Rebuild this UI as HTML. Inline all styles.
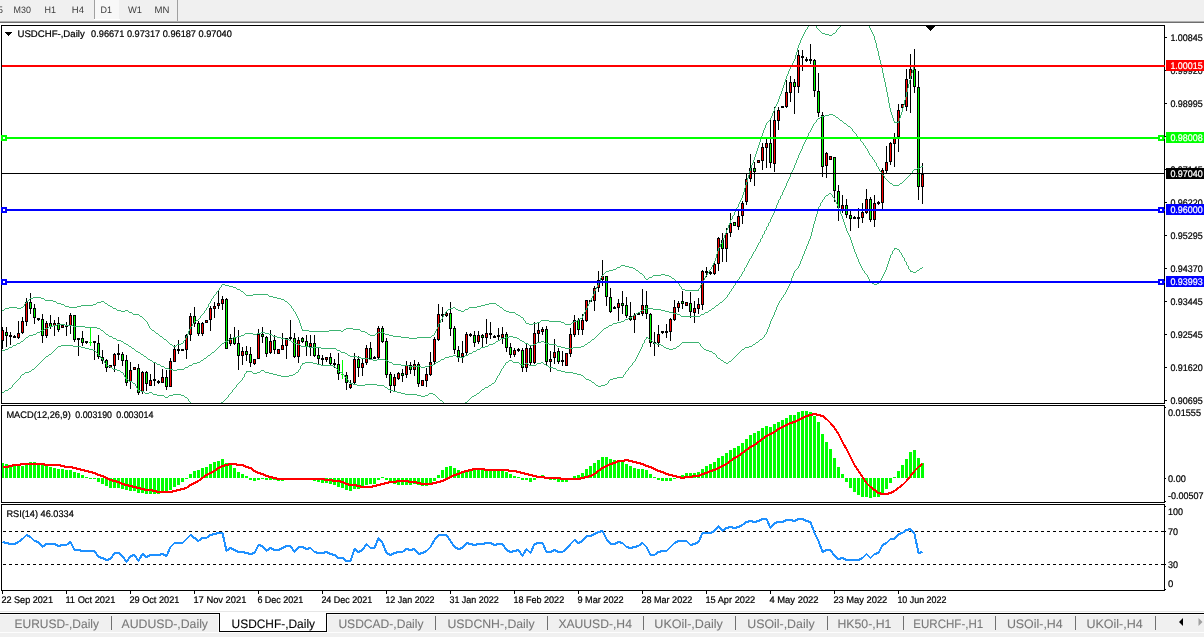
<!DOCTYPE html>
<html><head><meta charset="utf-8"><title>USDCHF-,Daily</title>
<style>
html,body{margin:0;padding:0;background:#fff;}
body{width:1204px;height:637px;overflow:hidden;position:relative;font-family:"Liberation Sans",sans-serif;}
svg text{white-space:pre;}
</style></head><body>
<svg width="1204" height="637" viewBox="0 0 1204 637" style="position:absolute;left:0;top:0" shape-rendering="crispEdges" text-rendering="geometricPrecision">
<defs><clipPath id="cm"><rect x="2" y="26" width="1162" height="377"/></clipPath><clipPath id="cd"><rect x="2" y="406" width="1162" height="96"/></clipPath><clipPath id="cr"><rect x="2" y="505" width="1162" height="85"/></clipPath></defs>
<rect x="0" y="0" width="1204" height="21" fill="#f0f0f0"/>
<rect x="0" y="21" width="1204" height="1" fill="#b0b0b0"/>
<rect x="0" y="22" width="1204" height="1" fill="#6e6e6e"/>
<rect x="95" y="0" width="24" height="19" fill="#f8f8f8"/>
<rect x="94" y="19" width="26" height="1" fill="#ffffff"/>
<rect x="94" y="0" width="1" height="19" fill="#a0a0a0"/>
<rect x="177" y="0" width="1" height="21" fill="#a0a0a0"/>
<rect x="1" y="25" width="1164" height="1" fill="#000"/>
<rect x="1" y="25" width="1" height="379" fill="#000"/>
<rect x="1164" y="25" width="1" height="379" fill="#000"/>
<rect x="1" y="403" width="1164" height="1" fill="#000"/>
<rect x="1" y="405" width="1164" height="1" fill="#000"/>
<rect x="1" y="405" width="1" height="98" fill="#000"/>
<rect x="1164" y="405" width="1" height="98" fill="#000"/>
<rect x="1" y="502" width="1164" height="1" fill="#000"/>
<rect x="1" y="504" width="1164" height="1" fill="#000"/>
<rect x="1" y="504" width="1" height="87" fill="#000"/>
<rect x="1164" y="504" width="1" height="87" fill="#000"/>
<rect x="1" y="590" width="1164" height="1" fill="#000"/>
<g clip-path="url(#cm)">
<rect x="2" y="327" width="1" height="22" fill="#000"/>
<rect x="1" y="330" width="3" height="11" fill="#000"/>
<rect x="2" y="331" width="1" height="9" fill="#ff0000"/>
<rect x="6" y="327" width="1" height="20" fill="#000"/>
<rect x="5" y="332" width="3" height="4" fill="#000"/>
<rect x="6" y="333" width="1" height="2" fill="#00ff00"/>
<rect x="10" y="332" width="1" height="13" fill="#000"/>
<rect x="9" y="335" width="3" height="2" fill="#000"/>
<rect x="14" y="335" width="1" height="3" fill="#000"/>
<rect x="13" y="336" width="3" height="2" fill="#000"/>
<rect x="18" y="321" width="1" height="18" fill="#000"/>
<rect x="17" y="333" width="3" height="5" fill="#000"/>
<rect x="18" y="334" width="1" height="3" fill="#ff0000"/>
<rect x="22" y="317" width="1" height="17" fill="#000"/>
<rect x="21" y="321" width="3" height="12" fill="#000"/>
<rect x="22" y="322" width="1" height="10" fill="#ff0000"/>
<rect x="26" y="298" width="1" height="28" fill="#000"/>
<rect x="25" y="302" width="3" height="20" fill="#000"/>
<rect x="26" y="303" width="1" height="18" fill="#ff0000"/>
<rect x="30" y="293" width="1" height="21" fill="#000"/>
<rect x="29" y="302" width="3" height="7" fill="#000"/>
<rect x="30" y="303" width="1" height="5" fill="#00ff00"/>
<rect x="34" y="304" width="1" height="20" fill="#000"/>
<rect x="33" y="308" width="3" height="10" fill="#000"/>
<rect x="34" y="309" width="1" height="8" fill="#00ff00"/>
<rect x="38" y="318" width="1" height="3" fill="#000"/>
<rect x="37" y="318" width="3" height="2" fill="#000"/>
<rect x="42" y="314" width="1" height="29" fill="#000"/>
<rect x="41" y="319" width="3" height="17" fill="#000"/>
<rect x="42" y="320" width="1" height="15" fill="#00ff00"/>
<rect x="46" y="321" width="1" height="17" fill="#000"/>
<rect x="45" y="323" width="3" height="13" fill="#000"/>
<rect x="46" y="324" width="1" height="11" fill="#ff0000"/>
<rect x="50" y="315" width="1" height="14" fill="#000"/>
<rect x="49" y="323" width="3" height="4" fill="#000"/>
<rect x="50" y="324" width="1" height="2" fill="#00ff00"/>
<rect x="54" y="320" width="1" height="16" fill="#000"/>
<rect x="53" y="323" width="3" height="3" fill="#000"/>
<rect x="54" y="324" width="1" height="1" fill="#ff0000"/>
<rect x="58" y="317" width="1" height="15" fill="#000"/>
<rect x="57" y="323" width="3" height="7" fill="#000"/>
<rect x="58" y="324" width="1" height="5" fill="#00ff00"/>
<rect x="62" y="325" width="1" height="3" fill="#000"/>
<rect x="61" y="325" width="3" height="3" fill="#000"/>
<rect x="62" y="326" width="1" height="1" fill="#ff0000"/>
<rect x="66" y="322" width="1" height="14" fill="#000"/>
<rect x="65" y="325" width="3" height="2" fill="#000"/>
<rect x="70" y="313" width="1" height="21" fill="#000"/>
<rect x="69" y="315" width="3" height="11" fill="#000"/>
<rect x="70" y="316" width="1" height="9" fill="#ff0000"/>
<rect x="74" y="315" width="1" height="27" fill="#000"/>
<rect x="73" y="315" width="3" height="25" fill="#000"/>
<rect x="74" y="316" width="1" height="23" fill="#00ff00"/>
<rect x="78" y="338" width="1" height="18" fill="#000"/>
<rect x="77" y="338" width="3" height="2" fill="#000"/>
<rect x="82" y="331" width="1" height="15" fill="#000"/>
<rect x="81" y="338" width="3" height="5" fill="#000"/>
<rect x="82" y="339" width="1" height="3" fill="#00ff00"/>
<rect x="86" y="342" width="1" height="2" fill="#000"/>
<rect x="85" y="341" width="3" height="2" fill="#000"/>
<rect x="90" y="328" width="1" height="18" fill="#00ff00"/>
<rect x="89" y="342" width="3" height="1" fill="#00ff00"/>
<rect x="94" y="341" width="1" height="19" fill="#000"/>
<rect x="93" y="341" width="3" height="2" fill="#000"/>
<rect x="98" y="335" width="1" height="24" fill="#000"/>
<rect x="97" y="343" width="3" height="14" fill="#000"/>
<rect x="98" y="344" width="1" height="12" fill="#00ff00"/>
<rect x="102" y="350" width="1" height="14" fill="#000"/>
<rect x="101" y="357" width="3" height="4" fill="#000"/>
<rect x="102" y="358" width="1" height="2" fill="#00ff00"/>
<rect x="106" y="359" width="1" height="13" fill="#000"/>
<rect x="105" y="360" width="3" height="8" fill="#000"/>
<rect x="106" y="361" width="1" height="6" fill="#00ff00"/>
<rect x="110" y="365" width="1" height="3" fill="#000"/>
<rect x="109" y="365" width="3" height="3" fill="#000"/>
<rect x="110" y="366" width="1" height="1" fill="#ff0000"/>
<rect x="114" y="353" width="1" height="19" fill="#000"/>
<rect x="113" y="354" width="3" height="12" fill="#000"/>
<rect x="114" y="355" width="1" height="10" fill="#ff0000"/>
<rect x="118" y="344" width="1" height="16" fill="#000"/>
<rect x="117" y="353" width="3" height="2" fill="#000"/>
<rect x="122" y="352" width="1" height="14" fill="#000"/>
<rect x="121" y="354" width="3" height="7" fill="#000"/>
<rect x="122" y="355" width="1" height="5" fill="#00ff00"/>
<rect x="126" y="355" width="1" height="31" fill="#000"/>
<rect x="125" y="360" width="3" height="23" fill="#000"/>
<rect x="126" y="361" width="1" height="21" fill="#00ff00"/>
<rect x="130" y="362" width="1" height="27" fill="#000"/>
<rect x="129" y="370" width="3" height="12" fill="#000"/>
<rect x="130" y="371" width="1" height="10" fill="#ff0000"/>
<rect x="134" y="367" width="1" height="3" fill="#000"/>
<rect x="133" y="367" width="3" height="3" fill="#000"/>
<rect x="134" y="368" width="1" height="1" fill="#ff0000"/>
<rect x="138" y="364" width="1" height="31" fill="#000"/>
<rect x="137" y="368" width="3" height="25" fill="#000"/>
<rect x="138" y="369" width="1" height="23" fill="#00ff00"/>
<rect x="142" y="371" width="1" height="23" fill="#000"/>
<rect x="141" y="372" width="3" height="20" fill="#000"/>
<rect x="142" y="373" width="1" height="18" fill="#ff0000"/>
<rect x="146" y="371" width="1" height="20" fill="#000"/>
<rect x="145" y="372" width="3" height="12" fill="#000"/>
<rect x="146" y="373" width="1" height="10" fill="#00ff00"/>
<rect x="150" y="374" width="1" height="12" fill="#000"/>
<rect x="149" y="380" width="3" height="6" fill="#000"/>
<rect x="150" y="381" width="1" height="4" fill="#ff0000"/>
<rect x="154" y="362" width="1" height="24" fill="#000"/>
<rect x="153" y="379" width="3" height="2" fill="#000"/>
<rect x="158" y="380" width="1" height="4" fill="#000"/>
<rect x="157" y="381" width="3" height="2" fill="#000"/>
<rect x="162" y="369" width="1" height="14" fill="#000"/>
<rect x="161" y="377" width="3" height="6" fill="#000"/>
<rect x="162" y="378" width="1" height="4" fill="#ff0000"/>
<rect x="166" y="370" width="1" height="20" fill="#000"/>
<rect x="165" y="377" width="3" height="10" fill="#000"/>
<rect x="166" y="378" width="1" height="8" fill="#00ff00"/>
<rect x="170" y="358" width="1" height="29" fill="#000"/>
<rect x="169" y="361" width="3" height="26" fill="#000"/>
<rect x="170" y="362" width="1" height="24" fill="#ff0000"/>
<rect x="174" y="345" width="1" height="17" fill="#000"/>
<rect x="173" y="349" width="3" height="13" fill="#000"/>
<rect x="174" y="350" width="1" height="11" fill="#ff0000"/>
<rect x="178" y="340" width="1" height="14" fill="#000"/>
<rect x="177" y="349" width="3" height="2" fill="#000"/>
<rect x="182" y="349" width="1" height="1" fill="#000"/>
<rect x="181" y="349" width="3" height="2" fill="#000"/>
<rect x="186" y="334" width="1" height="25" fill="#000"/>
<rect x="185" y="335" width="3" height="15" fill="#000"/>
<rect x="186" y="336" width="1" height="13" fill="#ff0000"/>
<rect x="190" y="313" width="1" height="28" fill="#000"/>
<rect x="189" y="316" width="3" height="19" fill="#000"/>
<rect x="190" y="317" width="1" height="17" fill="#ff0000"/>
<rect x="194" y="307" width="1" height="20" fill="#000"/>
<rect x="193" y="316" width="3" height="8" fill="#000"/>
<rect x="194" y="317" width="1" height="6" fill="#00ff00"/>
<rect x="198" y="321" width="1" height="15" fill="#000"/>
<rect x="197" y="323" width="3" height="11" fill="#000"/>
<rect x="198" y="324" width="1" height="9" fill="#00ff00"/>
<rect x="202" y="322" width="1" height="14" fill="#000"/>
<rect x="201" y="323" width="3" height="11" fill="#000"/>
<rect x="202" y="324" width="1" height="9" fill="#ff0000"/>
<rect x="206" y="320" width="1" height="3" fill="#000"/>
<rect x="205" y="320" width="3" height="3" fill="#000"/>
<rect x="206" y="321" width="1" height="1" fill="#ff0000"/>
<rect x="210" y="306" width="1" height="25" fill="#000"/>
<rect x="209" y="308" width="3" height="12" fill="#000"/>
<rect x="210" y="309" width="1" height="10" fill="#ff0000"/>
<rect x="214" y="302" width="1" height="16" fill="#000"/>
<rect x="213" y="306" width="3" height="3" fill="#000"/>
<rect x="214" y="307" width="1" height="1" fill="#ff0000"/>
<rect x="218" y="291" width="1" height="18" fill="#000"/>
<rect x="217" y="303" width="3" height="3" fill="#000"/>
<rect x="218" y="304" width="1" height="1" fill="#ff0000"/>
<rect x="222" y="296" width="1" height="14" fill="#000"/>
<rect x="221" y="299" width="3" height="5" fill="#000"/>
<rect x="222" y="300" width="1" height="3" fill="#ff0000"/>
<rect x="226" y="298" width="1" height="51" fill="#000"/>
<rect x="225" y="299" width="3" height="50" fill="#000"/>
<rect x="226" y="300" width="1" height="48" fill="#00ff00"/>
<rect x="230" y="334" width="1" height="12" fill="#000"/>
<rect x="229" y="338" width="3" height="6" fill="#000"/>
<rect x="230" y="339" width="1" height="4" fill="#ff0000"/>
<rect x="234" y="327" width="1" height="18" fill="#000"/>
<rect x="233" y="337" width="3" height="7" fill="#000"/>
<rect x="234" y="338" width="1" height="5" fill="#00ff00"/>
<rect x="238" y="330" width="1" height="40" fill="#000"/>
<rect x="237" y="343" width="3" height="13" fill="#000"/>
<rect x="238" y="344" width="1" height="11" fill="#00ff00"/>
<rect x="242" y="347" width="1" height="18" fill="#000"/>
<rect x="241" y="351" width="3" height="5" fill="#000"/>
<rect x="242" y="352" width="1" height="3" fill="#ff0000"/>
<rect x="246" y="346" width="1" height="15" fill="#000"/>
<rect x="245" y="351" width="3" height="4" fill="#000"/>
<rect x="246" y="352" width="1" height="2" fill="#00ff00"/>
<rect x="250" y="347" width="1" height="20" fill="#000"/>
<rect x="249" y="354" width="3" height="9" fill="#000"/>
<rect x="250" y="355" width="1" height="7" fill="#00ff00"/>
<rect x="254" y="359" width="1" height="6" fill="#000"/>
<rect x="253" y="359" width="3" height="5" fill="#000"/>
<rect x="254" y="360" width="1" height="3" fill="#ff0000"/>
<rect x="258" y="329" width="1" height="30" fill="#000"/>
<rect x="257" y="334" width="3" height="25" fill="#000"/>
<rect x="258" y="335" width="1" height="23" fill="#ff0000"/>
<rect x="262" y="327" width="1" height="16" fill="#000"/>
<rect x="261" y="334" width="3" height="3" fill="#000"/>
<rect x="262" y="335" width="1" height="1" fill="#00ff00"/>
<rect x="266" y="336" width="1" height="21" fill="#000"/>
<rect x="265" y="337" width="3" height="17" fill="#000"/>
<rect x="266" y="338" width="1" height="15" fill="#00ff00"/>
<rect x="270" y="330" width="1" height="24" fill="#000"/>
<rect x="269" y="341" width="3" height="12" fill="#000"/>
<rect x="270" y="342" width="1" height="10" fill="#ff0000"/>
<rect x="274" y="335" width="1" height="19" fill="#000"/>
<rect x="273" y="340" width="3" height="10" fill="#000"/>
<rect x="274" y="341" width="1" height="8" fill="#00ff00"/>
<rect x="278" y="349" width="1" height="5" fill="#000"/>
<rect x="277" y="349" width="3" height="5" fill="#000"/>
<rect x="278" y="350" width="1" height="3" fill="#ff0000"/>
<rect x="282" y="333" width="1" height="17" fill="#000"/>
<rect x="281" y="345" width="3" height="5" fill="#000"/>
<rect x="282" y="346" width="1" height="3" fill="#ff0000"/>
<rect x="286" y="338" width="1" height="21" fill="#000"/>
<rect x="285" y="338" width="3" height="8" fill="#000"/>
<rect x="286" y="339" width="1" height="6" fill="#ff0000"/>
<rect x="290" y="320" width="1" height="20" fill="#000"/>
<rect x="289" y="337" width="3" height="2" fill="#000"/>
<rect x="294" y="333" width="1" height="25" fill="#000"/>
<rect x="293" y="338" width="3" height="19" fill="#000"/>
<rect x="294" y="339" width="1" height="17" fill="#00ff00"/>
<rect x="298" y="337" width="1" height="26" fill="#000"/>
<rect x="297" y="340" width="3" height="17" fill="#000"/>
<rect x="298" y="341" width="1" height="15" fill="#ff0000"/>
<rect x="302" y="337" width="1" height="6" fill="#000"/>
<rect x="301" y="338" width="3" height="4" fill="#000"/>
<rect x="302" y="339" width="1" height="2" fill="#00ff00"/>
<rect x="306" y="335" width="1" height="21" fill="#000"/>
<rect x="305" y="341" width="3" height="6" fill="#000"/>
<rect x="306" y="342" width="1" height="4" fill="#00ff00"/>
<rect x="310" y="335" width="1" height="21" fill="#000"/>
<rect x="309" y="343" width="3" height="4" fill="#000"/>
<rect x="310" y="344" width="1" height="2" fill="#ff0000"/>
<rect x="314" y="335" width="1" height="22" fill="#000"/>
<rect x="313" y="343" width="3" height="13" fill="#000"/>
<rect x="314" y="344" width="1" height="11" fill="#00ff00"/>
<rect x="318" y="347" width="1" height="17" fill="#000"/>
<rect x="317" y="355" width="3" height="4" fill="#000"/>
<rect x="318" y="356" width="1" height="2" fill="#00ff00"/>
<rect x="322" y="355" width="1" height="11" fill="#000"/>
<rect x="321" y="358" width="3" height="2" fill="#000"/>
<rect x="326" y="357" width="1" height="5" fill="#000"/>
<rect x="325" y="357" width="3" height="3" fill="#000"/>
<rect x="326" y="358" width="1" height="1" fill="#ff0000"/>
<rect x="330" y="353" width="1" height="12" fill="#000"/>
<rect x="329" y="357" width="3" height="7" fill="#000"/>
<rect x="330" y="358" width="1" height="5" fill="#00ff00"/>
<rect x="334" y="359" width="1" height="9" fill="#000"/>
<rect x="333" y="363" width="3" height="2" fill="#000"/>
<rect x="338" y="353" width="1" height="27" fill="#000"/>
<rect x="337" y="364" width="3" height="10" fill="#000"/>
<rect x="338" y="365" width="1" height="8" fill="#00ff00"/>
<rect x="342" y="360" width="1" height="19" fill="#00ff00"/>
<rect x="341" y="374" width="3" height="1" fill="#00ff00"/>
<rect x="346" y="372" width="1" height="18" fill="#000"/>
<rect x="345" y="375" width="3" height="8" fill="#000"/>
<rect x="346" y="376" width="1" height="6" fill="#00ff00"/>
<rect x="350" y="380" width="1" height="9" fill="#000"/>
<rect x="349" y="384" width="3" height="4" fill="#000"/>
<rect x="350" y="385" width="1" height="2" fill="#ff0000"/>
<rect x="354" y="353" width="1" height="31" fill="#000"/>
<rect x="353" y="359" width="3" height="24" fill="#000"/>
<rect x="354" y="360" width="1" height="22" fill="#ff0000"/>
<rect x="358" y="356" width="1" height="21" fill="#000"/>
<rect x="357" y="359" width="3" height="9" fill="#000"/>
<rect x="358" y="360" width="1" height="7" fill="#00ff00"/>
<rect x="362" y="358" width="1" height="18" fill="#000"/>
<rect x="361" y="363" width="3" height="5" fill="#000"/>
<rect x="362" y="364" width="1" height="3" fill="#ff0000"/>
<rect x="366" y="345" width="1" height="20" fill="#000"/>
<rect x="365" y="348" width="3" height="15" fill="#000"/>
<rect x="366" y="349" width="1" height="13" fill="#ff0000"/>
<rect x="370" y="342" width="1" height="18" fill="#000"/>
<rect x="369" y="348" width="3" height="11" fill="#000"/>
<rect x="370" y="349" width="1" height="9" fill="#00ff00"/>
<rect x="374" y="356" width="1" height="3" fill="#000"/>
<rect x="373" y="357" width="3" height="2" fill="#000"/>
<rect x="378" y="326" width="1" height="33" fill="#000"/>
<rect x="377" y="328" width="3" height="30" fill="#000"/>
<rect x="378" y="329" width="1" height="28" fill="#ff0000"/>
<rect x="382" y="326" width="1" height="17" fill="#000"/>
<rect x="381" y="328" width="3" height="14" fill="#000"/>
<rect x="382" y="329" width="1" height="12" fill="#00ff00"/>
<rect x="386" y="338" width="1" height="40" fill="#000"/>
<rect x="385" y="341" width="3" height="34" fill="#000"/>
<rect x="386" y="342" width="1" height="32" fill="#00ff00"/>
<rect x="390" y="372" width="1" height="21" fill="#000"/>
<rect x="389" y="374" width="3" height="12" fill="#000"/>
<rect x="390" y="375" width="1" height="10" fill="#00ff00"/>
<rect x="394" y="374" width="1" height="18" fill="#000"/>
<rect x="393" y="377" width="3" height="9" fill="#000"/>
<rect x="394" y="378" width="1" height="7" fill="#ff0000"/>
<rect x="398" y="372" width="1" height="8" fill="#000"/>
<rect x="397" y="373" width="3" height="6" fill="#000"/>
<rect x="398" y="374" width="1" height="4" fill="#ff0000"/>
<rect x="402" y="369" width="1" height="13" fill="#000"/>
<rect x="401" y="373" width="3" height="3" fill="#000"/>
<rect x="402" y="374" width="1" height="1" fill="#00ff00"/>
<rect x="406" y="361" width="1" height="17" fill="#000"/>
<rect x="405" y="365" width="3" height="10" fill="#000"/>
<rect x="406" y="366" width="1" height="8" fill="#ff0000"/>
<rect x="410" y="362" width="1" height="12" fill="#000"/>
<rect x="409" y="365" width="3" height="5" fill="#000"/>
<rect x="410" y="366" width="1" height="3" fill="#00ff00"/>
<rect x="414" y="360" width="1" height="16" fill="#000"/>
<rect x="413" y="364" width="3" height="6" fill="#000"/>
<rect x="414" y="365" width="1" height="4" fill="#ff0000"/>
<rect x="418" y="362" width="1" height="25" fill="#000"/>
<rect x="417" y="364" width="3" height="20" fill="#000"/>
<rect x="418" y="365" width="1" height="18" fill="#00ff00"/>
<rect x="422" y="380" width="1" height="6" fill="#000"/>
<rect x="421" y="380" width="3" height="6" fill="#000"/>
<rect x="422" y="381" width="1" height="4" fill="#ff0000"/>
<rect x="426" y="368" width="1" height="19" fill="#000"/>
<rect x="425" y="374" width="3" height="7" fill="#000"/>
<rect x="426" y="375" width="1" height="5" fill="#ff0000"/>
<rect x="430" y="352" width="1" height="24" fill="#000"/>
<rect x="429" y="362" width="3" height="13" fill="#000"/>
<rect x="430" y="363" width="1" height="11" fill="#ff0000"/>
<rect x="434" y="337" width="1" height="27" fill="#000"/>
<rect x="433" y="339" width="3" height="23" fill="#000"/>
<rect x="434" y="340" width="1" height="21" fill="#ff0000"/>
<rect x="438" y="304" width="1" height="37" fill="#000"/>
<rect x="437" y="314" width="3" height="26" fill="#000"/>
<rect x="438" y="315" width="1" height="24" fill="#ff0000"/>
<rect x="442" y="307" width="1" height="15" fill="#000"/>
<rect x="441" y="314" width="3" height="2" fill="#000"/>
<rect x="446" y="312" width="1" height="5" fill="#000"/>
<rect x="445" y="313" width="3" height="3" fill="#000"/>
<rect x="446" y="314" width="1" height="1" fill="#ff0000"/>
<rect x="450" y="302" width="1" height="34" fill="#000"/>
<rect x="449" y="313" width="3" height="16" fill="#000"/>
<rect x="450" y="314" width="1" height="14" fill="#00ff00"/>
<rect x="454" y="326" width="1" height="28" fill="#000"/>
<rect x="453" y="328" width="3" height="22" fill="#000"/>
<rect x="454" y="329" width="1" height="20" fill="#00ff00"/>
<rect x="458" y="346" width="1" height="16" fill="#000"/>
<rect x="457" y="350" width="3" height="7" fill="#000"/>
<rect x="458" y="351" width="1" height="5" fill="#00ff00"/>
<rect x="462" y="341" width="1" height="22" fill="#000"/>
<rect x="461" y="353" width="3" height="4" fill="#000"/>
<rect x="462" y="354" width="1" height="2" fill="#ff0000"/>
<rect x="466" y="332" width="1" height="23" fill="#000"/>
<rect x="465" y="334" width="3" height="19" fill="#000"/>
<rect x="466" y="335" width="1" height="17" fill="#ff0000"/>
<rect x="470" y="333" width="1" height="4" fill="#000"/>
<rect x="469" y="334" width="3" height="2" fill="#000"/>
<rect x="474" y="331" width="1" height="16" fill="#000"/>
<rect x="473" y="335" width="3" height="8" fill="#000"/>
<rect x="474" y="336" width="1" height="6" fill="#00ff00"/>
<rect x="478" y="331" width="1" height="13" fill="#000"/>
<rect x="477" y="335" width="3" height="7" fill="#000"/>
<rect x="478" y="336" width="1" height="5" fill="#ff0000"/>
<rect x="482" y="334" width="1" height="13" fill="#000"/>
<rect x="481" y="335" width="3" height="3" fill="#000"/>
<rect x="482" y="336" width="1" height="1" fill="#00ff00"/>
<rect x="486" y="319" width="1" height="25" fill="#000"/>
<rect x="485" y="333" width="3" height="5" fill="#000"/>
<rect x="486" y="334" width="1" height="3" fill="#ff0000"/>
<rect x="490" y="322" width="1" height="17" fill="#000"/>
<rect x="489" y="333" width="3" height="2" fill="#000"/>
<rect x="494" y="335" width="1" height="3" fill="#000"/>
<rect x="493" y="336" width="3" height="2" fill="#000"/>
<rect x="498" y="328" width="1" height="12" fill="#000"/>
<rect x="497" y="335" width="3" height="2" fill="#000"/>
<rect x="502" y="327" width="1" height="17" fill="#000"/>
<rect x="501" y="334" width="3" height="4" fill="#000"/>
<rect x="502" y="335" width="1" height="2" fill="#ff0000"/>
<rect x="506" y="332" width="1" height="20" fill="#000"/>
<rect x="505" y="334" width="3" height="14" fill="#000"/>
<rect x="506" y="335" width="1" height="12" fill="#00ff00"/>
<rect x="510" y="343" width="1" height="15" fill="#000"/>
<rect x="509" y="347" width="3" height="8" fill="#000"/>
<rect x="510" y="348" width="1" height="6" fill="#00ff00"/>
<rect x="514" y="348" width="1" height="9" fill="#000"/>
<rect x="513" y="350" width="3" height="5" fill="#000"/>
<rect x="514" y="351" width="1" height="3" fill="#ff0000"/>
<rect x="518" y="348" width="1" height="4" fill="#000"/>
<rect x="517" y="349" width="3" height="2" fill="#000"/>
<rect x="522" y="348" width="1" height="24" fill="#000"/>
<rect x="521" y="350" width="3" height="18" fill="#000"/>
<rect x="522" y="351" width="1" height="16" fill="#00ff00"/>
<rect x="526" y="344" width="1" height="28" fill="#000"/>
<rect x="525" y="348" width="3" height="20" fill="#000"/>
<rect x="526" y="349" width="1" height="18" fill="#ff0000"/>
<rect x="530" y="346" width="1" height="20" fill="#000"/>
<rect x="529" y="348" width="3" height="15" fill="#000"/>
<rect x="530" y="349" width="1" height="13" fill="#00ff00"/>
<rect x="534" y="322" width="1" height="42" fill="#000"/>
<rect x="533" y="333" width="3" height="30" fill="#000"/>
<rect x="534" y="334" width="1" height="28" fill="#ff0000"/>
<rect x="538" y="323" width="1" height="20" fill="#000"/>
<rect x="537" y="330" width="3" height="4" fill="#000"/>
<rect x="538" y="331" width="1" height="2" fill="#ff0000"/>
<rect x="542" y="327" width="1" height="8" fill="#000"/>
<rect x="541" y="329" width="3" height="3" fill="#000"/>
<rect x="542" y="330" width="1" height="1" fill="#ff0000"/>
<rect x="546" y="326" width="1" height="40" fill="#000"/>
<rect x="545" y="329" width="3" height="33" fill="#000"/>
<rect x="546" y="330" width="1" height="31" fill="#00ff00"/>
<rect x="550" y="351" width="1" height="21" fill="#000"/>
<rect x="549" y="359" width="3" height="3" fill="#000"/>
<rect x="550" y="360" width="1" height="1" fill="#ff0000"/>
<rect x="554" y="339" width="1" height="25" fill="#000"/>
<rect x="553" y="352" width="3" height="6" fill="#000"/>
<rect x="554" y="353" width="1" height="4" fill="#ff0000"/>
<rect x="558" y="348" width="1" height="16" fill="#000"/>
<rect x="557" y="351" width="3" height="11" fill="#000"/>
<rect x="558" y="352" width="1" height="9" fill="#00ff00"/>
<rect x="562" y="351" width="1" height="15" fill="#000"/>
<rect x="561" y="360" width="3" height="2" fill="#000"/>
<rect x="566" y="353" width="1" height="13" fill="#000"/>
<rect x="565" y="353" width="3" height="13" fill="#000"/>
<rect x="566" y="354" width="1" height="11" fill="#ff0000"/>
<rect x="570" y="328" width="1" height="29" fill="#000"/>
<rect x="569" y="334" width="3" height="20" fill="#000"/>
<rect x="570" y="335" width="1" height="18" fill="#ff0000"/>
<rect x="574" y="315" width="1" height="22" fill="#000"/>
<rect x="573" y="320" width="3" height="15" fill="#000"/>
<rect x="574" y="321" width="1" height="13" fill="#ff0000"/>
<rect x="578" y="318" width="1" height="17" fill="#000"/>
<rect x="577" y="320" width="3" height="10" fill="#000"/>
<rect x="578" y="321" width="1" height="8" fill="#00ff00"/>
<rect x="582" y="314" width="1" height="21" fill="#000"/>
<rect x="581" y="320" width="3" height="10" fill="#000"/>
<rect x="582" y="321" width="1" height="8" fill="#ff0000"/>
<rect x="586" y="300" width="1" height="22" fill="#000"/>
<rect x="585" y="300" width="3" height="21" fill="#000"/>
<rect x="586" y="301" width="1" height="19" fill="#ff0000"/>
<rect x="590" y="300" width="1" height="2" fill="#000"/>
<rect x="589" y="300" width="3" height="2" fill="#000"/>
<rect x="594" y="286" width="1" height="25" fill="#000"/>
<rect x="593" y="288" width="3" height="13" fill="#000"/>
<rect x="594" y="289" width="1" height="11" fill="#ff0000"/>
<rect x="598" y="271" width="1" height="21" fill="#000"/>
<rect x="597" y="280" width="3" height="8" fill="#000"/>
<rect x="598" y="281" width="1" height="6" fill="#ff0000"/>
<rect x="602" y="260" width="1" height="26" fill="#000"/>
<rect x="601" y="276" width="3" height="4" fill="#000"/>
<rect x="602" y="277" width="1" height="2" fill="#ff0000"/>
<rect x="606" y="276" width="1" height="30" fill="#000"/>
<rect x="605" y="276" width="3" height="21" fill="#000"/>
<rect x="606" y="277" width="1" height="19" fill="#00ff00"/>
<rect x="610" y="288" width="1" height="25" fill="#000"/>
<rect x="609" y="297" width="3" height="15" fill="#000"/>
<rect x="610" y="298" width="1" height="13" fill="#00ff00"/>
<rect x="614" y="306" width="1" height="2" fill="#000"/>
<rect x="613" y="307" width="3" height="2" fill="#000"/>
<rect x="618" y="299" width="1" height="22" fill="#000"/>
<rect x="617" y="303" width="3" height="5" fill="#000"/>
<rect x="618" y="304" width="1" height="3" fill="#ff0000"/>
<rect x="622" y="291" width="1" height="23" fill="#000"/>
<rect x="621" y="303" width="3" height="3" fill="#000"/>
<rect x="622" y="304" width="1" height="1" fill="#00ff00"/>
<rect x="626" y="297" width="1" height="21" fill="#000"/>
<rect x="625" y="305" width="3" height="11" fill="#000"/>
<rect x="626" y="306" width="1" height="9" fill="#00ff00"/>
<rect x="630" y="302" width="1" height="19" fill="#000"/>
<rect x="629" y="316" width="3" height="4" fill="#000"/>
<rect x="630" y="317" width="1" height="2" fill="#00ff00"/>
<rect x="634" y="313" width="1" height="20" fill="#000"/>
<rect x="633" y="315" width="3" height="5" fill="#000"/>
<rect x="634" y="316" width="1" height="3" fill="#ff0000"/>
<rect x="638" y="313" width="1" height="2" fill="#000"/>
<rect x="637" y="313" width="3" height="2" fill="#000"/>
<rect x="642" y="289" width="1" height="27" fill="#000"/>
<rect x="641" y="305" width="3" height="9" fill="#000"/>
<rect x="642" y="306" width="1" height="7" fill="#ff0000"/>
<rect x="646" y="291" width="1" height="28" fill="#000"/>
<rect x="645" y="305" width="3" height="9" fill="#000"/>
<rect x="646" y="306" width="1" height="7" fill="#00ff00"/>
<rect x="650" y="313" width="1" height="34" fill="#000"/>
<rect x="649" y="314" width="3" height="29" fill="#000"/>
<rect x="650" y="315" width="1" height="27" fill="#00ff00"/>
<rect x="654" y="332" width="1" height="24" fill="#000"/>
<rect x="653" y="342" width="3" height="2" fill="#000"/>
<rect x="658" y="325" width="1" height="22" fill="#000"/>
<rect x="657" y="334" width="3" height="9" fill="#000"/>
<rect x="658" y="335" width="1" height="7" fill="#ff0000"/>
<rect x="662" y="331" width="1" height="3" fill="#000"/>
<rect x="661" y="331" width="3" height="2" fill="#000"/>
<rect x="666" y="324" width="1" height="14" fill="#000"/>
<rect x="665" y="331" width="3" height="2" fill="#000"/>
<rect x="670" y="318" width="1" height="23" fill="#000"/>
<rect x="669" y="319" width="3" height="13" fill="#000"/>
<rect x="670" y="320" width="1" height="11" fill="#ff0000"/>
<rect x="674" y="300" width="1" height="21" fill="#000"/>
<rect x="673" y="307" width="3" height="13" fill="#000"/>
<rect x="674" y="308" width="1" height="11" fill="#ff0000"/>
<rect x="678" y="301" width="1" height="11" fill="#000"/>
<rect x="677" y="303" width="3" height="5" fill="#000"/>
<rect x="678" y="304" width="1" height="3" fill="#ff0000"/>
<rect x="682" y="291" width="1" height="18" fill="#000"/>
<rect x="681" y="301" width="3" height="3" fill="#000"/>
<rect x="682" y="302" width="1" height="1" fill="#00ff00"/>
<rect x="686" y="302" width="1" height="4" fill="#000"/>
<rect x="685" y="302" width="3" height="4" fill="#000"/>
<rect x="686" y="303" width="1" height="2" fill="#ff0000"/>
<rect x="690" y="292" width="1" height="26" fill="#000"/>
<rect x="689" y="303" width="3" height="9" fill="#000"/>
<rect x="690" y="304" width="1" height="7" fill="#00ff00"/>
<rect x="694" y="301" width="1" height="22" fill="#000"/>
<rect x="693" y="308" width="3" height="5" fill="#000"/>
<rect x="694" y="309" width="1" height="3" fill="#ff0000"/>
<rect x="698" y="298" width="1" height="16" fill="#000"/>
<rect x="697" y="304" width="3" height="5" fill="#000"/>
<rect x="698" y="305" width="1" height="3" fill="#ff0000"/>
<rect x="702" y="270" width="1" height="40" fill="#000"/>
<rect x="701" y="271" width="3" height="34" fill="#000"/>
<rect x="702" y="272" width="1" height="32" fill="#ff0000"/>
<rect x="706" y="267" width="1" height="10" fill="#000"/>
<rect x="705" y="271" width="3" height="2" fill="#000"/>
<rect x="710" y="271" width="1" height="4" fill="#000"/>
<rect x="709" y="272" width="3" height="2" fill="#000"/>
<rect x="714" y="263" width="1" height="12" fill="#000"/>
<rect x="713" y="264" width="3" height="10" fill="#000"/>
<rect x="714" y="265" width="1" height="8" fill="#ff0000"/>
<rect x="718" y="237" width="1" height="34" fill="#000"/>
<rect x="717" y="238" width="3" height="26" fill="#000"/>
<rect x="718" y="239" width="1" height="24" fill="#ff0000"/>
<rect x="722" y="233" width="1" height="29" fill="#000"/>
<rect x="721" y="240" width="3" height="9" fill="#000"/>
<rect x="722" y="241" width="1" height="7" fill="#00ff00"/>
<rect x="726" y="228" width="1" height="34" fill="#000"/>
<rect x="725" y="233" width="3" height="16" fill="#000"/>
<rect x="726" y="234" width="1" height="14" fill="#ff0000"/>
<rect x="730" y="213" width="1" height="24" fill="#000"/>
<rect x="729" y="223" width="3" height="10" fill="#000"/>
<rect x="730" y="224" width="1" height="8" fill="#ff0000"/>
<rect x="734" y="222" width="1" height="4" fill="#000"/>
<rect x="733" y="222" width="3" height="4" fill="#000"/>
<rect x="734" y="223" width="1" height="2" fill="#00ff00"/>
<rect x="738" y="210" width="1" height="20" fill="#000"/>
<rect x="737" y="216" width="3" height="11" fill="#000"/>
<rect x="738" y="217" width="1" height="9" fill="#ff0000"/>
<rect x="742" y="201" width="1" height="23" fill="#000"/>
<rect x="741" y="203" width="3" height="13" fill="#000"/>
<rect x="742" y="204" width="1" height="11" fill="#ff0000"/>
<rect x="746" y="173" width="1" height="32" fill="#000"/>
<rect x="745" y="179" width="3" height="23" fill="#000"/>
<rect x="746" y="180" width="1" height="21" fill="#ff0000"/>
<rect x="750" y="154" width="1" height="28" fill="#000"/>
<rect x="749" y="168" width="3" height="11" fill="#000"/>
<rect x="750" y="169" width="1" height="9" fill="#ff0000"/>
<rect x="754" y="162" width="1" height="24" fill="#000"/>
<rect x="753" y="168" width="3" height="4" fill="#000"/>
<rect x="754" y="169" width="1" height="2" fill="#00ff00"/>
<rect x="758" y="160" width="1" height="3" fill="#000"/>
<rect x="757" y="160" width="3" height="3" fill="#000"/>
<rect x="758" y="161" width="1" height="1" fill="#ff0000"/>
<rect x="762" y="143" width="1" height="27" fill="#000"/>
<rect x="761" y="147" width="3" height="14" fill="#000"/>
<rect x="762" y="148" width="1" height="12" fill="#ff0000"/>
<rect x="766" y="139" width="1" height="29" fill="#000"/>
<rect x="765" y="143" width="3" height="5" fill="#000"/>
<rect x="766" y="144" width="1" height="3" fill="#ff0000"/>
<rect x="770" y="120" width="1" height="48" fill="#000"/>
<rect x="769" y="143" width="3" height="20" fill="#000"/>
<rect x="770" y="144" width="1" height="18" fill="#00ff00"/>
<rect x="774" y="107" width="1" height="65" fill="#000"/>
<rect x="773" y="120" width="3" height="44" fill="#000"/>
<rect x="774" y="121" width="1" height="42" fill="#ff0000"/>
<rect x="778" y="107" width="1" height="23" fill="#000"/>
<rect x="777" y="110" width="3" height="11" fill="#000"/>
<rect x="778" y="111" width="1" height="9" fill="#ff0000"/>
<rect x="782" y="106" width="1" height="2" fill="#000"/>
<rect x="781" y="106" width="3" height="2" fill="#000"/>
<rect x="786" y="80" width="1" height="28" fill="#000"/>
<rect x="785" y="92" width="3" height="15" fill="#000"/>
<rect x="786" y="93" width="1" height="13" fill="#ff0000"/>
<rect x="790" y="76" width="1" height="26" fill="#000"/>
<rect x="789" y="82" width="3" height="11" fill="#000"/>
<rect x="790" y="83" width="1" height="9" fill="#ff0000"/>
<rect x="794" y="79" width="1" height="35" fill="#000"/>
<rect x="793" y="82" width="3" height="5" fill="#000"/>
<rect x="794" y="83" width="1" height="3" fill="#00ff00"/>
<rect x="798" y="50" width="1" height="43" fill="#000"/>
<rect x="797" y="55" width="3" height="32" fill="#000"/>
<rect x="798" y="56" width="1" height="30" fill="#ff0000"/>
<rect x="802" y="50" width="1" height="21" fill="#000"/>
<rect x="801" y="56" width="3" height="2" fill="#000"/>
<rect x="806" y="57" width="1" height="5" fill="#000"/>
<rect x="805" y="59" width="3" height="2" fill="#000"/>
<rect x="810" y="44" width="1" height="20" fill="#000"/>
<rect x="809" y="59" width="3" height="2" fill="#000"/>
<rect x="814" y="59" width="1" height="38" fill="#000"/>
<rect x="813" y="60" width="3" height="31" fill="#000"/>
<rect x="814" y="61" width="1" height="29" fill="#00ff00"/>
<rect x="818" y="73" width="1" height="44" fill="#000"/>
<rect x="817" y="91" width="3" height="22" fill="#000"/>
<rect x="818" y="92" width="1" height="20" fill="#00ff00"/>
<rect x="822" y="112" width="1" height="65" fill="#000"/>
<rect x="821" y="115" width="3" height="52" fill="#000"/>
<rect x="822" y="116" width="1" height="50" fill="#00ff00"/>
<rect x="826" y="152" width="1" height="26" fill="#000"/>
<rect x="825" y="153" width="3" height="13" fill="#000"/>
<rect x="826" y="154" width="1" height="11" fill="#ff0000"/>
<rect x="830" y="156" width="1" height="4" fill="#000"/>
<rect x="829" y="156" width="3" height="4" fill="#000"/>
<rect x="830" y="157" width="1" height="2" fill="#ff0000"/>
<rect x="834" y="157" width="1" height="45" fill="#000"/>
<rect x="833" y="157" width="3" height="34" fill="#000"/>
<rect x="834" y="158" width="1" height="32" fill="#00ff00"/>
<rect x="838" y="185" width="1" height="36" fill="#000"/>
<rect x="837" y="191" width="3" height="17" fill="#000"/>
<rect x="838" y="192" width="1" height="15" fill="#00ff00"/>
<rect x="842" y="195" width="1" height="18" fill="#000"/>
<rect x="841" y="205" width="3" height="5" fill="#000"/>
<rect x="842" y="206" width="1" height="3" fill="#ff0000"/>
<rect x="846" y="199" width="1" height="19" fill="#000"/>
<rect x="845" y="205" width="3" height="10" fill="#000"/>
<rect x="846" y="206" width="1" height="8" fill="#00ff00"/>
<rect x="850" y="210" width="1" height="21" fill="#000"/>
<rect x="849" y="215" width="3" height="4" fill="#000"/>
<rect x="850" y="216" width="1" height="2" fill="#00ff00"/>
<rect x="854" y="216" width="1" height="3" fill="#000"/>
<rect x="853" y="217" width="3" height="2" fill="#000"/>
<rect x="858" y="208" width="1" height="20" fill="#000"/>
<rect x="857" y="217" width="3" height="2" fill="#000"/>
<rect x="862" y="203" width="1" height="20" fill="#000"/>
<rect x="861" y="212" width="3" height="6" fill="#000"/>
<rect x="862" y="213" width="1" height="4" fill="#ff0000"/>
<rect x="866" y="189" width="1" height="25" fill="#000"/>
<rect x="865" y="199" width="3" height="14" fill="#000"/>
<rect x="866" y="200" width="1" height="12" fill="#ff0000"/>
<rect x="870" y="197" width="1" height="25" fill="#000"/>
<rect x="869" y="199" width="3" height="21" fill="#000"/>
<rect x="870" y="200" width="1" height="19" fill="#00ff00"/>
<rect x="874" y="195" width="1" height="32" fill="#000"/>
<rect x="873" y="203" width="3" height="17" fill="#000"/>
<rect x="874" y="204" width="1" height="15" fill="#ff0000"/>
<rect x="878" y="201" width="1" height="4" fill="#000"/>
<rect x="877" y="202" width="3" height="2" fill="#000"/>
<rect x="882" y="168" width="1" height="41" fill="#000"/>
<rect x="881" y="170" width="3" height="33" fill="#000"/>
<rect x="882" y="171" width="1" height="31" fill="#ff0000"/>
<rect x="886" y="146" width="1" height="27" fill="#000"/>
<rect x="885" y="162" width="3" height="9" fill="#000"/>
<rect x="886" y="163" width="1" height="7" fill="#ff0000"/>
<rect x="890" y="142" width="1" height="23" fill="#000"/>
<rect x="889" y="143" width="3" height="19" fill="#000"/>
<rect x="890" y="144" width="1" height="17" fill="#ff0000"/>
<rect x="894" y="133" width="1" height="34" fill="#000"/>
<rect x="893" y="138" width="3" height="6" fill="#000"/>
<rect x="894" y="139" width="1" height="4" fill="#ff0000"/>
<rect x="898" y="104" width="1" height="48" fill="#000"/>
<rect x="897" y="110" width="3" height="27" fill="#000"/>
<rect x="898" y="111" width="1" height="25" fill="#ff0000"/>
<rect x="902" y="104" width="1" height="4" fill="#000"/>
<rect x="901" y="104" width="3" height="4" fill="#000"/>
<rect x="902" y="105" width="1" height="2" fill="#ff0000"/>
<rect x="906" y="69" width="1" height="42" fill="#000"/>
<rect x="905" y="79" width="3" height="28" fill="#000"/>
<rect x="906" y="80" width="1" height="26" fill="#ff0000"/>
<rect x="910" y="54" width="1" height="59" fill="#000"/>
<rect x="909" y="69" width="3" height="10" fill="#000"/>
<rect x="910" y="70" width="1" height="8" fill="#ff0000"/>
<rect x="914" y="49" width="1" height="44" fill="#000"/>
<rect x="913" y="69" width="3" height="18" fill="#000"/>
<rect x="914" y="70" width="1" height="16" fill="#00ff00"/>
<rect x="918" y="71" width="1" height="129" fill="#000"/>
<rect x="917" y="87" width="3" height="100" fill="#000"/>
<rect x="918" y="88" width="1" height="98" fill="#00ff00"/>
<rect x="922" y="163" width="1" height="41" fill="#000"/>
<rect x="921" y="174" width="3" height="13" fill="#000"/>
<rect x="922" y="175" width="1" height="11" fill="#ff0000"/>
<path d="M853 14h7v1h-7zM852 15h1v1h-1zM860 15h1v1h-1zM850 16h2v1h-2zM861 16h2v1h-2zM849 17h1v1h-1zM863 17h1v1h-1zM848 18h1v1h-1zM864 18h1v1h-1zM847 19h1v1h-1zM864 19h1v1h-1zM846 20h1v1h-1zM865 20h1v1h-1zM845 21h1v1h-1zM866 21h1v1h-1zM844 22h1v1h-1zM867 22h1v1h-1zM810 23h3v1h-3zM843 23h1v1h-1zM867 23h1v1h-1zM809 24h1v1h-1zM813 24h2v1h-2zM842 24h1v1h-1zM868 24h1v1h-1zM809 25h1v1h-1zM815 25h1v1h-1zM841 25h1v1h-1zM868 25h1v1h-1zM808 26h1v1h-1zM816 26h1v1h-1zM840 26h1v1h-1zM869 26h1v1h-1zM807 27h1v1h-1zM816 27h1v1h-1zM839 27h1v1h-1zM869 27h1v1h-1zM807 28h1v1h-1zM817 28h1v1h-1zM838 28h1v1h-1zM870 28h1v1h-1zM806 29h1v1h-1zM818 29h1v1h-1zM837 29h1v1h-1zM870 29h1v1h-1zM805 30h1v1h-1zM819 30h1v1h-1zM836 30h1v1h-1zM871 30h1v1h-1zM805 31h1v1h-1zM820 31h1v1h-1zM836 31h1v1h-1zM871 31h1v1h-1zM804 32h1v1h-1zM821 32h1v1h-1zM835 32h1v1h-1zM872 32h1v1h-1zM804 33h1v1h-1zM822 33h3v1h-3zM833 33h2v1h-2zM872 33h1v1h-1zM803 34h1v1h-1zM825 34h4v1h-4zM832 34h1v1h-1zM873 34h1v1h-1zM803 35h1v1h-1zM829 35h3v1h-3zM873 35h1v1h-1zM802 36h1v1h-1zM874 36h1v1h-1zM802 37h1v1h-1zM874 37h1v1h-1zM801 38h1v1h-1zM874 38h1v1h-1zM801 39h1v1h-1zM874 39h1v1h-1zM800 40h1v1h-1zM875 40h1v1h-1zM800 41h1v1h-1zM875 41h1v1h-1zM800 42h1v1h-1zM875 42h1v1h-1zM799 43h1v1h-1zM876 43h1v1h-1zM799 44h1v1h-1zM876 44h1v1h-1zM798 45h1v1h-1zM876 45h1v1h-1zM798 46h1v1h-1zM876 46h1v1h-1zM798 47h1v1h-1zM876 47h1v1h-1zM797 48h1v1h-1zM877 48h1v1h-1zM797 49h1v1h-1zM877 49h1v1h-1zM797 50h1v1h-1zM877 50h1v1h-1zM797 51h1v1h-1zM878 51h1v1h-1zM796 52h1v1h-1zM878 52h1v1h-1zM796 53h1v1h-1zM878 53h1v1h-1zM796 54h1v1h-1zM878 54h1v1h-1zM795 55h1v1h-1zM878 55h1v1h-1zM795 56h1v1h-1zM879 56h1v1h-1zM795 57h1v1h-1zM879 57h1v1h-1zM795 58h1v1h-1zM879 58h1v1h-1zM794 59h1v1h-1zM879 59h1v1h-1zM794 60h1v1h-1zM880 60h1v1h-1zM793 61h1v1h-1zM880 61h1v1h-1zM793 62h1v1h-1zM880 62h1v1h-1zM792 63h1v1h-1zM880 63h1v1h-1zM792 64h1v1h-1zM881 64h1v1h-1zM791 65h1v1h-1zM881 65h1v1h-1zM914 65h9v1h-9zM791 66h1v1h-1zM881 66h1v1h-1zM914 66h1v1h-1zM790 67h1v1h-1zM881 67h1v1h-1zM913 67h1v1h-1zM790 68h1v1h-1zM882 68h1v1h-1zM913 68h1v1h-1zM789 69h1v1h-1zM882 69h1v1h-1zM913 69h1v1h-1zM789 70h1v1h-1zM882 70h1v1h-1zM912 70h1v1h-1zM788 71h1v1h-1zM882 71h1v1h-1zM912 71h1v1h-1zM788 72h1v1h-1zM882 72h1v1h-1zM912 72h1v1h-1zM788 73h1v1h-1zM883 73h1v1h-1zM911 73h1v1h-1zM787 74h1v1h-1zM883 74h1v1h-1zM911 74h1v1h-1zM787 75h1v1h-1zM883 75h1v1h-1zM911 75h1v1h-1zM786 76h1v1h-1zM883 76h1v1h-1zM910 76h1v1h-1zM786 77h1v1h-1zM883 77h1v1h-1zM910 77h1v1h-1zM786 78h1v1h-1zM884 78h1v1h-1zM910 78h1v1h-1zM785 79h1v1h-1zM884 79h1v1h-1zM910 79h1v1h-1zM785 80h1v1h-1zM884 80h1v1h-1zM909 80h1v1h-1zM785 81h1v1h-1zM884 81h1v1h-1zM909 81h1v1h-1zM784 82h1v1h-1zM885 82h1v1h-1zM909 82h1v1h-1zM784 83h1v1h-1zM885 83h1v1h-1zM909 83h1v1h-1zM784 84h1v1h-1zM885 84h1v1h-1zM908 84h1v1h-1zM783 85h1v1h-1zM885 85h1v1h-1zM908 85h1v1h-1zM783 86h1v1h-1zM885 86h1v1h-1zM908 86h1v1h-1zM783 87h1v1h-1zM886 87h1v1h-1zM908 87h1v1h-1zM782 88h1v1h-1zM886 88h1v1h-1zM907 88h1v1h-1zM782 89h1v1h-1zM886 89h1v1h-1zM907 89h1v1h-1zM782 90h1v1h-1zM886 90h1v1h-1zM907 90h1v1h-1zM781 91h1v1h-1zM886 91h1v1h-1zM907 91h1v1h-1zM781 92h1v1h-1zM887 92h1v1h-1zM906 92h1v1h-1zM781 93h1v1h-1zM887 93h1v1h-1zM906 93h1v1h-1zM780 94h1v1h-1zM887 94h1v1h-1zM906 94h1v1h-1zM780 95h1v1h-1zM887 95h1v1h-1zM906 95h1v1h-1zM779 96h1v1h-1zM887 96h1v1h-1zM906 96h1v1h-1zM779 97h1v1h-1zM888 97h1v1h-1zM905 97h1v1h-1zM779 98h1v1h-1zM888 98h1v1h-1zM905 98h1v1h-1zM778 99h1v1h-1zM888 99h1v1h-1zM905 99h1v1h-1zM778 100h1v1h-1zM888 100h1v1h-1zM904 100h1v1h-1zM778 101h1v1h-1zM888 101h1v1h-1zM904 101h1v1h-1zM777 102h1v1h-1zM888 102h1v1h-1zM904 102h1v1h-1zM777 103h1v1h-1zM889 103h1v1h-1zM904 103h1v1h-1zM776 104h1v1h-1zM889 104h1v1h-1zM904 104h1v1h-1zM776 105h1v1h-1zM889 105h1v1h-1zM903 105h1v1h-1zM775 106h1v1h-1zM889 106h1v1h-1zM903 106h1v1h-1zM775 107h1v1h-1zM889 107h1v1h-1zM903 107h1v1h-1zM774 108h1v1h-1zM890 108h1v1h-1zM902 108h1v1h-1zM774 109h1v1h-1zM890 109h1v1h-1zM902 109h1v1h-1zM774 110h1v1h-1zM890 110h1v1h-1zM902 110h1v1h-1zM773 111h1v1h-1zM890 111h1v1h-1zM902 111h1v1h-1zM773 112h1v1h-1zM891 112h1v1h-1zM901 112h1v1h-1zM772 113h1v1h-1zM891 113h1v1h-1zM901 113h1v1h-1zM772 114h1v1h-1zM891 114h1v1h-1zM901 114h1v1h-1zM772 115h1v1h-1zM892 115h1v1h-1zM900 115h1v1h-1zM771 116h1v1h-1zM892 116h1v1h-1zM900 116h1v1h-1zM771 117h1v1h-1zM892 117h1v1h-1zM900 117h1v1h-1zM770 118h1v1h-1zM893 118h1v1h-1zM899 118h1v1h-1zM770 119h1v1h-1zM893 119h1v1h-1zM899 119h1v1h-1zM769 120h1v1h-1zM893 120h1v1h-1zM899 120h1v1h-1zM768 121h1v1h-1zM894 121h1v1h-1zM898 121h1v1h-1zM767 122h1v1h-1zM894 122h5v1h-5zM766 123h1v1h-1zM766 124h1v1h-1zM765 125h1v1h-1zM765 126h1v1h-1zM765 127h1v1h-1zM764 128h1v1h-1zM764 129h1v1h-1zM763 130h1v1h-1zM763 131h1v1h-1zM763 132h1v1h-1zM762 133h1v1h-1zM762 134h1v1h-1zM762 135h1v1h-1zM761 136h1v1h-1zM761 137h1v1h-1zM761 138h1v1h-1zM760 139h1v1h-1zM760 140h1v1h-1zM760 141h1v1h-1zM759 142h1v1h-1zM759 143h1v1h-1zM759 144h1v1h-1zM758 145h1v1h-1zM758 146h1v1h-1zM758 147h1v1h-1zM757 148h1v1h-1zM757 149h1v1h-1zM757 150h1v1h-1zM756 151h1v1h-1zM756 152h1v1h-1zM756 153h1v1h-1zM755 154h1v1h-1zM755 155h1v1h-1zM755 156h1v1h-1zM754 157h1v1h-1zM754 158h1v1h-1zM754 159h1v1h-1zM753 160h1v1h-1zM753 161h1v1h-1zM753 162h1v1h-1zM752 163h1v1h-1zM752 164h1v1h-1zM751 165h1v1h-1zM751 166h1v1h-1zM751 167h1v1h-1zM750 168h1v1h-1zM750 169h1v1h-1zM750 170h1v1h-1zM749 171h1v1h-1zM749 172h1v1h-1zM749 173h1v1h-1zM749 174h1v1h-1zM748 175h1v1h-1zM748 176h1v1h-1zM748 177h1v1h-1zM747 178h1v1h-1zM747 179h1v1h-1zM747 180h1v1h-1zM747 181h1v1h-1zM746 182h1v1h-1zM746 183h1v1h-1zM746 184h1v1h-1zM745 185h1v1h-1zM745 186h1v1h-1zM745 187h1v1h-1zM744 188h1v1h-1zM744 189h1v1h-1zM744 190h1v1h-1zM744 191h1v1h-1zM743 192h1v1h-1zM743 193h1v1h-1zM743 194h1v1h-1zM742 195h1v1h-1zM742 196h1v1h-1zM742 197h1v1h-1zM741 198h1v1h-1zM741 199h1v1h-1zM740 200h1v1h-1zM740 201h1v1h-1zM739 202h1v1h-1zM739 203h1v1h-1zM738 204h1v1h-1zM738 205h1v1h-1zM738 206h1v1h-1zM737 207h1v1h-1zM736 208h1v1h-1zM736 209h1v1h-1zM736 210h1v1h-1zM735 211h1v1h-1zM734 212h1v1h-1zM734 213h1v1h-1zM734 214h1v1h-1zM733 215h1v1h-1zM732 216h1v1h-1zM732 217h1v1h-1zM732 218h1v1h-1zM731 219h1v1h-1zM730 220h1v1h-1zM730 221h1v1h-1zM730 222h1v1h-1zM729 223h1v1h-1zM729 224h1v1h-1zM728 225h1v1h-1zM728 226h1v1h-1zM728 227h1v1h-1zM727 228h1v1h-1zM727 229h1v1h-1zM726 230h1v1h-1zM726 231h1v1h-1zM726 232h1v1h-1zM725 233h1v1h-1zM725 234h1v1h-1zM724 235h1v1h-1zM724 236h1v1h-1zM724 237h1v1h-1zM723 238h1v1h-1zM723 239h1v1h-1zM722 240h1v1h-1zM722 241h1v1h-1zM722 242h1v1h-1zM721 243h1v1h-1zM720 244h1v1h-1zM720 245h1v1h-1zM720 246h1v1h-1zM719 247h1v1h-1zM718 248h1v1h-1zM718 249h1v1h-1zM718 250h1v1h-1zM717 251h1v1h-1zM717 252h1v1h-1zM717 253h1v1h-1zM716 254h1v1h-1zM716 255h1v1h-1zM716 256h1v1h-1zM716 257h1v1h-1zM715 258h1v1h-1zM715 259h1v1h-1zM715 260h1v1h-1zM714 261h1v1h-1zM714 262h1v1h-1zM713 263h1v1h-1zM713 264h1v1h-1zM621 265h4v1h-4zM712 265h1v1h-1zM620 266h1v1h-1zM625 266h4v1h-4zM712 266h1v1h-1zM617 267h3v1h-3zM629 267h4v1h-4zM711 267h1v1h-1zM616 268h1v1h-1zM633 268h2v1h-2zM711 268h1v1h-1zM613 269h3v1h-3zM635 269h1v1h-1zM710 269h1v1h-1zM609 270h4v1h-4zM636 270h2v1h-2zM709 270h1v1h-1zM606 271h3v1h-3zM638 271h1v1h-1zM709 271h1v1h-1zM605 272h1v1h-1zM639 272h1v1h-1zM708 272h1v1h-1zM604 273h1v1h-1zM640 273h2v1h-2zM707 273h1v1h-1zM603 274h1v1h-1zM642 274h1v1h-1zM661 274h4v1h-4zM707 274h1v1h-1zM602 275h1v1h-1zM643 275h1v1h-1zM653 275h8v1h-8zM665 275h4v1h-4zM706 275h1v1h-1zM602 276h1v1h-1zM644 276h1v1h-1zM652 276h1v1h-1zM669 276h2v1h-2zM705 276h1v1h-1zM601 277h1v1h-1zM644 277h1v1h-1zM649 277h3v1h-3zM671 277h1v1h-1zM705 277h1v1h-1zM600 278h1v1h-1zM645 278h1v1h-1zM648 278h1v1h-1zM672 278h2v1h-2zM704 278h1v1h-1zM600 279h1v1h-1zM646 279h2v1h-2zM674 279h1v1h-1zM704 279h1v1h-1zM600 280h1v1h-1zM675 280h1v1h-1zM703 280h1v1h-1zM599 281h1v1h-1zM676 281h1v1h-1zM703 281h1v1h-1zM598 282h1v1h-1zM677 282h1v1h-1zM702 282h1v1h-1zM598 283h1v1h-1zM678 283h1v1h-1zM702 283h1v1h-1zM222 284h3v1h-3zM598 284h1v1h-1zM679 284h1v1h-1zM701 284h1v1h-1zM221 285h1v1h-1zM225 285h4v1h-4zM597 285h1v1h-1zM679 285h1v1h-1zM700 285h1v1h-1zM221 286h1v1h-1zM229 286h4v1h-4zM597 286h1v1h-1zM680 286h1v1h-1zM700 286h1v1h-1zM220 287h1v1h-1zM233 287h3v1h-3zM596 287h1v1h-1zM681 287h1v1h-1zM700 287h1v1h-1zM219 288h1v1h-1zM236 288h1v1h-1zM596 288h1v1h-1zM681 288h1v1h-1zM699 288h1v1h-1zM219 289h1v1h-1zM237 289h3v1h-3zM595 289h1v1h-1zM682 289h3v1h-3zM698 289h1v1h-1zM218 290h1v1h-1zM240 290h1v1h-1zM595 290h1v1h-1zM685 290h14v1h-14zM217 291h1v1h-1zM241 291h2v1h-2zM594 291h1v1h-1zM216 292h1v1h-1zM243 292h1v1h-1zM594 292h1v1h-1zM216 293h1v1h-1zM244 293h1v1h-1zM594 293h1v1h-1zM215 294h1v1h-1zM245 294h1v1h-1zM253 294h15v1h-15zM593 294h1v1h-1zM214 295h1v1h-1zM246 295h7v1h-7zM268 295h1v1h-1zM593 295h1v1h-1zM213 296h1v1h-1zM269 296h4v1h-4zM592 296h1v1h-1zM33 297h8v1h-8zM213 297h1v1h-1zM273 297h4v1h-4zM592 297h1v1h-1zM30 298h3v1h-3zM41 298h3v1h-3zM212 298h1v1h-1zM277 298h4v1h-4zM591 298h1v1h-1zM29 299h1v1h-1zM44 299h1v1h-1zM211 299h1v1h-1zM281 299h3v1h-3zM591 299h1v1h-1zM28 300h1v1h-1zM45 300h8v1h-8zM211 300h1v1h-1zM284 300h1v1h-1zM590 300h1v1h-1zM27 301h1v1h-1zM53 301h3v1h-3zM101 301h3v1h-3zM210 301h1v1h-1zM285 301h2v1h-2zM590 301h1v1h-1zM26 302h1v1h-1zM56 302h1v1h-1zM97 302h4v1h-4zM104 302h1v1h-1zM210 302h1v1h-1zM287 302h1v1h-1zM589 302h1v1h-1zM25 303h1v1h-1zM57 303h4v1h-4zM96 303h1v1h-1zM105 303h2v1h-2zM209 303h1v1h-1zM288 303h1v1h-1zM489 303h7v1h-7zM589 303h1v1h-1zM24 304h1v1h-1zM61 304h3v1h-3zM93 304h3v1h-3zM107 304h1v1h-1zM208 304h1v1h-1zM289 304h1v1h-1zM485 304h4v1h-4zM496 304h1v1h-1zM588 304h1v1h-1zM24 305h1v1h-1zM64 305h1v1h-1zM81 305h12v1h-12zM108 305h2v1h-2zM208 305h1v1h-1zM290 305h1v1h-1zM481 305h4v1h-4zM497 305h2v1h-2zM588 305h1v1h-1zM23 306h1v1h-1zM65 306h4v1h-4zM77 306h4v1h-4zM110 306h2v1h-2zM208 306h1v1h-1zM291 306h1v1h-1zM477 306h4v1h-4zM499 306h1v1h-1zM587 306h1v1h-1zM9 307h8v1h-8zM21 307h2v1h-2zM69 307h8v1h-8zM112 307h1v1h-1zM207 307h1v1h-1zM291 307h1v1h-1zM453 307h2v1h-2zM469 307h8v1h-8zM500 307h2v1h-2zM587 307h1v1h-1zM5 308h4v1h-4zM17 308h4v1h-4zM113 308h3v1h-3zM206 308h1v1h-1zM292 308h1v1h-1zM450 308h3v1h-3zM455 308h1v1h-1zM468 308h1v1h-1zM502 308h1v1h-1zM586 308h1v1h-1zM4 309h1v1h-1zM116 309h1v1h-1zM206 309h1v1h-1zM293 309h1v1h-1zM448 309h2v1h-2zM456 309h2v1h-2zM465 309h3v1h-3zM503 309h1v1h-1zM586 309h1v1h-1zM2 310h2v1h-2zM117 310h4v1h-4zM125 310h3v1h-3zM205 310h1v1h-1zM293 310h1v1h-1zM447 310h1v1h-1zM458 310h3v1h-3zM464 310h1v1h-1zM504 310h2v1h-2zM585 310h1v1h-1zM121 311h4v1h-4zM128 311h1v1h-1zM204 311h1v1h-1zM294 311h1v1h-1zM446 311h1v1h-1zM461 311h3v1h-3zM506 311h3v1h-3zM585 311h1v1h-1zM129 312h3v1h-3zM204 312h1v1h-1zM295 312h1v1h-1zM445 312h1v1h-1zM509 312h6v1h-6zM584 312h1v1h-1zM132 313h1v1h-1zM203 313h1v1h-1zM295 313h1v1h-1zM445 313h1v1h-1zM515 313h1v1h-1zM584 313h1v1h-1zM133 314h6v1h-6zM202 314h1v1h-1zM296 314h1v1h-1zM444 314h1v1h-1zM516 314h2v1h-2zM583 314h1v1h-1zM139 315h1v1h-1zM201 315h1v1h-1zM296 315h1v1h-1zM443 315h1v1h-1zM518 315h2v1h-2zM583 315h1v1h-1zM140 316h2v1h-2zM200 316h1v1h-1zM297 316h1v1h-1zM443 316h1v1h-1zM520 316h1v1h-1zM582 316h1v1h-1zM142 317h1v1h-1zM200 317h1v1h-1zM297 317h1v1h-1zM442 317h1v1h-1zM521 317h2v1h-2zM582 317h1v1h-1zM143 318h1v1h-1zM199 318h1v1h-1zM298 318h1v1h-1zM442 318h1v1h-1zM523 318h1v1h-1zM580 318h2v1h-2zM144 319h1v1h-1zM198 319h1v1h-1zM298 319h1v1h-1zM441 319h1v1h-1zM523 319h1v1h-1zM579 319h1v1h-1zM145 320h1v1h-1zM196 320h2v1h-2zM299 320h1v1h-1zM440 320h1v1h-1zM524 320h1v1h-1zM541 320h8v1h-8zM577 320h2v1h-2zM146 321h1v1h-1zM195 321h1v1h-1zM299 321h1v1h-1zM440 321h1v1h-1zM525 321h1v1h-1zM540 321h1v1h-1zM549 321h12v1h-12zM574 321h3v1h-3zM147 322h1v1h-1zM194 322h1v1h-1zM299 322h1v1h-1zM440 322h1v1h-1zM525 322h1v1h-1zM537 322h3v1h-3zM561 322h3v1h-3zM572 322h2v1h-2zM147 323h1v1h-1zM193 323h1v1h-1zM300 323h1v1h-1zM439 323h1v1h-1zM526 323h3v1h-3zM533 323h4v1h-4zM564 323h1v1h-1zM571 323h1v1h-1zM148 324h1v1h-1zM192 324h1v1h-1zM300 324h1v1h-1zM438 324h1v1h-1zM529 324h4v1h-4zM565 324h6v1h-6zM148 325h1v1h-1zM192 325h1v1h-1zM300 325h1v1h-1zM438 325h1v1h-1zM149 326h1v1h-1zM191 326h1v1h-1zM301 326h1v1h-1zM438 326h1v1h-1zM149 327h1v1h-1zM190 327h1v1h-1zM301 327h1v1h-1zM437 327h1v1h-1zM150 328h1v1h-1zM190 328h1v1h-1zM301 328h1v1h-1zM346 328h7v1h-7zM437 328h1v1h-1zM151 329h1v1h-1zM189 329h1v1h-1zM302 329h1v1h-1zM344 329h2v1h-2zM353 329h7v1h-7zM436 329h1v1h-1zM152 330h2v1h-2zM189 330h1v1h-1zM302 330h7v1h-7zM329 330h12v1h-12zM343 330h1v1h-1zM360 330h1v1h-1zM436 330h1v1h-1zM154 331h1v1h-1zM188 331h1v1h-1zM309 331h20v1h-20zM341 331h2v1h-2zM361 331h4v1h-4zM435 331h1v1h-1zM155 332h1v1h-1zM188 332h1v1h-1zM365 332h2v1h-2zM378 332h6v1h-6zM435 332h1v1h-1zM156 333h2v1h-2zM188 333h1v1h-1zM367 333h1v1h-1zM376 333h2v1h-2zM384 333h1v1h-1zM434 333h1v1h-1zM158 334h1v1h-1zM187 334h1v1h-1zM368 334h2v1h-2zM375 334h1v1h-1zM385 334h4v1h-4zM434 334h1v1h-1zM159 335h1v1h-1zM187 335h1v1h-1zM370 335h5v1h-5zM389 335h4v1h-4zM432 335h2v1h-2zM160 336h2v1h-2zM186 336h1v1h-1zM393 336h8v1h-8zM431 336h1v1h-1zM162 337h1v1h-1zM186 337h1v1h-1zM401 337h8v1h-8zM417 337h14v1h-14zM163 338h1v1h-1zM185 338h1v1h-1zM409 338h8v1h-8zM164 339h2v1h-2zM185 339h1v1h-1zM166 340h1v1h-1zM184 340h1v1h-1zM167 341h1v1h-1zM183 341h1v1h-1zM168 342h1v1h-1zM183 342h1v1h-1zM169 343h1v1h-1zM181 343h2v1h-2zM170 344h2v1h-2zM177 344h4v1h-4zM172 345h1v1h-1zM176 345h1v1h-1zM173 346h3v1h-3z" fill="#3cb371"/>
<path d="M829 114h4v1h-4zM825 115h4v1h-4zM833 115h2v1h-2zM821 116h4v1h-4zM835 116h1v1h-1zM820 117h1v1h-1zM836 117h2v1h-2zM818 118h2v1h-2zM838 118h1v1h-1zM817 119h1v1h-1zM839 119h1v1h-1zM816 120h1v1h-1zM840 120h2v1h-2zM816 121h1v1h-1zM842 121h1v1h-1zM815 122h1v1h-1zM843 122h1v1h-1zM814 123h1v1h-1zM844 123h2v1h-2zM813 124h1v1h-1zM846 124h1v1h-1zM813 125h1v1h-1zM847 125h1v1h-1zM812 126h1v1h-1zM848 126h2v1h-2zM812 127h1v1h-1zM850 127h1v1h-1zM811 128h1v1h-1zM851 128h1v1h-1zM811 129h1v1h-1zM852 129h1v1h-1zM810 130h1v1h-1zM852 130h1v1h-1zM810 131h1v1h-1zM853 131h1v1h-1zM809 132h1v1h-1zM854 132h1v1h-1zM808 133h1v1h-1zM855 133h1v1h-1zM808 134h1v1h-1zM856 134h1v1h-1zM808 135h1v1h-1zM856 135h1v1h-1zM807 136h1v1h-1zM857 136h1v1h-1zM806 137h1v1h-1zM858 137h1v1h-1zM806 138h1v1h-1zM859 138h1v1h-1zM806 139h1v1h-1zM860 139h1v1h-1zM805 140h1v1h-1zM860 140h1v1h-1zM805 141h1v1h-1zM861 141h1v1h-1zM804 142h1v1h-1zM862 142h1v1h-1zM804 143h1v1h-1zM863 143h1v1h-1zM803 144h1v1h-1zM863 144h1v1h-1zM803 145h1v1h-1zM864 145h1v1h-1zM802 146h1v1h-1zM865 146h1v1h-1zM802 147h1v1h-1zM865 147h1v1h-1zM802 148h1v1h-1zM866 148h1v1h-1zM801 149h1v1h-1zM867 149h1v1h-1zM801 150h1v1h-1zM867 150h1v1h-1zM800 151h1v1h-1zM868 151h1v1h-1zM800 152h1v1h-1zM868 152h1v1h-1zM799 153h1v1h-1zM869 153h1v1h-1zM799 154h1v1h-1zM869 154h1v1h-1zM798 155h1v1h-1zM870 155h1v1h-1zM798 156h1v1h-1zM871 156h1v1h-1zM798 157h1v1h-1zM872 157h1v1h-1zM797 158h1v1h-1zM872 158h1v1h-1zM797 159h1v1h-1zM873 159h1v1h-1zM796 160h1v1h-1zM874 160h1v1h-1zM796 161h1v1h-1zM874 161h1v1h-1zM796 162h1v1h-1zM875 162h1v1h-1zM795 163h1v1h-1zM876 163h1v1h-1zM795 164h1v1h-1zM876 164h1v1h-1zM794 165h1v1h-1zM876 165h1v1h-1zM794 166h1v1h-1zM877 166h1v1h-1zM921 166h2v1h-2zM794 167h1v1h-1zM878 167h1v1h-1zM920 167h1v1h-1zM793 168h1v1h-1zM878 168h1v1h-1zM917 168h3v1h-3zM793 169h1v1h-1zM879 169h1v1h-1zM914 169h3v1h-3zM792 170h1v1h-1zM879 170h1v1h-1zM913 170h1v1h-1zM792 171h1v1h-1zM880 171h1v1h-1zM912 171h1v1h-1zM791 172h1v1h-1zM881 172h1v1h-1zM912 172h1v1h-1zM791 173h1v1h-1zM881 173h1v1h-1zM911 173h1v1h-1zM790 174h1v1h-1zM882 174h1v1h-1zM910 174h1v1h-1zM790 175h1v1h-1zM883 175h1v1h-1zM909 175h1v1h-1zM790 176h1v1h-1zM884 176h1v1h-1zM908 176h1v1h-1zM789 177h1v1h-1zM884 177h1v1h-1zM907 177h1v1h-1zM789 178h1v1h-1zM885 178h1v1h-1zM906 178h1v1h-1zM788 179h1v1h-1zM886 179h1v1h-1zM905 179h1v1h-1zM788 180h1v1h-1zM887 180h1v1h-1zM904 180h1v1h-1zM787 181h1v1h-1zM888 181h1v1h-1zM903 181h1v1h-1zM787 182h1v1h-1zM889 182h1v1h-1zM902 182h1v1h-1zM786 183h1v1h-1zM890 183h2v1h-2zM900 183h2v1h-2zM786 184h1v1h-1zM892 184h1v1h-1zM899 184h1v1h-1zM786 185h1v1h-1zM893 185h6v1h-6zM785 186h1v1h-1zM785 187h1v1h-1zM784 188h1v1h-1zM784 189h1v1h-1zM783 190h1v1h-1zM783 191h1v1h-1zM782 192h1v1h-1zM782 193h1v1h-1zM782 194h1v1h-1zM781 195h1v1h-1zM780 196h1v1h-1zM780 197h1v1h-1zM780 198h1v1h-1zM779 199h1v1h-1zM778 200h1v1h-1zM778 201h1v1h-1zM778 202h1v1h-1zM777 203h1v1h-1zM777 204h1v1h-1zM776 205h1v1h-1zM776 206h1v1h-1zM776 207h1v1h-1zM775 208h1v1h-1zM775 209h1v1h-1zM774 210h1v1h-1zM774 211h1v1h-1zM774 212h1v1h-1zM773 213h1v1h-1zM773 214h1v1h-1zM772 215h1v1h-1zM772 216h1v1h-1zM771 217h1v1h-1zM771 218h1v1h-1zM770 219h1v1h-1zM770 220h1v1h-1zM770 221h1v1h-1zM769 222h1v1h-1zM768 223h1v1h-1zM768 224h1v1h-1zM768 225h1v1h-1zM767 226h1v1h-1zM766 227h1v1h-1zM766 228h1v1h-1zM766 229h1v1h-1zM765 230h1v1h-1zM764 231h1v1h-1zM764 232h1v1h-1zM764 233h1v1h-1zM763 234h1v1h-1zM762 235h1v1h-1zM762 236h1v1h-1zM762 237h1v1h-1zM761 238h1v1h-1zM760 239h1v1h-1zM760 240h1v1h-1zM760 241h1v1h-1zM759 242h1v1h-1zM758 243h1v1h-1zM758 244h1v1h-1zM757 245h1v1h-1zM757 246h1v1h-1zM756 247h1v1h-1zM756 248h1v1h-1zM755 249h1v1h-1zM755 250h1v1h-1zM754 251h1v1h-1zM753 252h1v1h-1zM753 253h1v1h-1zM752 254h1v1h-1zM752 255h1v1h-1zM751 256h1v1h-1zM751 257h1v1h-1zM750 258h1v1h-1zM749 259h1v1h-1zM749 260h1v1h-1zM748 261h1v1h-1zM748 262h1v1h-1zM747 263h1v1h-1zM747 264h1v1h-1zM746 265h1v1h-1zM746 266h1v1h-1zM745 267h1v1h-1zM744 268h1v1h-1zM744 269h1v1h-1zM744 270h1v1h-1zM743 271h1v1h-1zM742 272h1v1h-1zM742 273h1v1h-1zM741 274h1v1h-1zM741 275h1v1h-1zM740 276h1v1h-1zM739 277h1v1h-1zM739 278h1v1h-1zM738 279h1v1h-1zM737 280h1v1h-1zM737 281h1v1h-1zM736 282h1v1h-1zM735 283h1v1h-1zM735 284h1v1h-1zM734 285h1v1h-1zM733 286h1v1h-1zM733 287h1v1h-1zM732 288h1v1h-1zM731 289h1v1h-1zM731 290h1v1h-1zM730 291h1v1h-1zM729 292h1v1h-1zM729 293h1v1h-1zM728 294h1v1h-1zM727 295h1v1h-1zM727 296h1v1h-1zM726 297h1v1h-1zM725 298h1v1h-1zM724 299h1v1h-1zM723 300h1v1h-1zM722 301h1v1h-1zM720 302h2v1h-2zM719 303h1v1h-1zM718 304h1v1h-1zM716 305h2v1h-2zM715 306h1v1h-1zM714 307h1v1h-1zM645 308h8v1h-8zM712 308h2v1h-2zM644 309h1v1h-1zM653 309h8v1h-8zM711 309h1v1h-1zM641 310h3v1h-3zM661 310h4v1h-4zM709 310h2v1h-2zM640 311h1v1h-1zM665 311h4v1h-4zM708 311h1v1h-1zM638 312h2v1h-2zM669 312h4v1h-4zM705 312h3v1h-3zM636 313h2v1h-2zM673 313h4v1h-4zM704 313h1v1h-1zM635 314h1v1h-1zM677 314h3v1h-3zM701 314h3v1h-3zM633 315h2v1h-2zM680 315h1v1h-1zM700 315h1v1h-1zM632 316h1v1h-1zM681 316h19v1h-19zM629 317h3v1h-3zM628 318h1v1h-1zM625 319h3v1h-3zM624 320h1v1h-1zM621 321h3v1h-3zM617 322h4v1h-4zM613 323h4v1h-4zM57 324h8v1h-8zM612 324h1v1h-1zM53 325h4v1h-4zM65 325h8v1h-8zM609 325h3v1h-3zM49 326h4v1h-4zM73 326h12v1h-12zM608 326h1v1h-1zM48 327h1v1h-1zM85 327h12v1h-12zM606 327h2v1h-2zM45 328h3v1h-3zM97 328h3v1h-3zM604 328h2v1h-2zM44 329h1v1h-1zM100 329h1v1h-1zM603 329h1v1h-1zM41 330h3v1h-3zM101 330h2v1h-2zM602 330h1v1h-1zM40 331h1v1h-1zM103 331h1v1h-1zM601 331h1v1h-1zM37 332h3v1h-3zM104 332h1v1h-1zM261 332h4v1h-4zM600 332h1v1h-1zM36 333h1v1h-1zM105 333h1v1h-1zM245 333h8v1h-8zM257 333h4v1h-4zM265 333h4v1h-4zM599 333h1v1h-1zM33 334h3v1h-3zM106 334h2v1h-2zM244 334h1v1h-1zM253 334h4v1h-4zM269 334h3v1h-3zM598 334h1v1h-1zM29 335h4v1h-4zM108 335h1v1h-1zM241 335h3v1h-3zM272 335h1v1h-1zM597 335h1v1h-1zM28 336h1v1h-1zM109 336h3v1h-3zM237 336h4v1h-4zM273 336h4v1h-4zM509 336h4v1h-4zM596 336h1v1h-1zM26 337h2v1h-2zM112 337h1v1h-1zM233 337h4v1h-4zM277 337h4v1h-4zM505 337h4v1h-4zM513 337h4v1h-4zM595 337h1v1h-1zM25 338h1v1h-1zM113 338h3v1h-3zM232 338h1v1h-1zM281 338h4v1h-4zM501 338h4v1h-4zM517 338h2v1h-2zM594 338h1v1h-1zM24 339h1v1h-1zM116 339h1v1h-1zM229 339h3v1h-3zM285 339h4v1h-4zM500 339h1v1h-1zM519 339h1v1h-1zM592 339h2v1h-2zM23 340h1v1h-1zM117 340h4v1h-4zM228 340h1v1h-1zM289 340h2v1h-2zM498 340h2v1h-2zM520 340h2v1h-2zM591 340h1v1h-1zM21 341h2v1h-2zM121 341h2v1h-2zM225 341h3v1h-3zM291 341h1v1h-1zM496 341h2v1h-2zM522 341h2v1h-2zM541 341h3v1h-3zM590 341h1v1h-1zM20 342h1v1h-1zM123 342h1v1h-1zM224 342h1v1h-1zM292 342h2v1h-2zM495 342h1v1h-1zM524 342h1v1h-1zM537 342h4v1h-4zM544 342h1v1h-1zM588 342h2v1h-2zM17 343h3v1h-3zM124 343h2v1h-2zM222 343h2v1h-2zM294 343h3v1h-3zM493 343h2v1h-2zM525 343h3v1h-3zM536 343h1v1h-1zM545 343h4v1h-4zM587 343h1v1h-1zM16 344h1v1h-1zM126 344h2v1h-2zM221 344h1v1h-1zM297 344h3v1h-3zM489 344h4v1h-4zM528 344h1v1h-1zM533 344h3v1h-3zM549 344h7v1h-7zM585 344h2v1h-2zM13 345h3v1h-3zM128 345h1v1h-1zM220 345h1v1h-1zM300 345h1v1h-1zM488 345h1v1h-1zM529 345h4v1h-4zM556 345h1v1h-1zM584 345h1v1h-1zM12 346h1v1h-1zM129 346h2v1h-2zM219 346h1v1h-1zM301 346h8v1h-8zM485 346h3v1h-3zM557 346h4v1h-4zM581 346h3v1h-3zM9 347h3v1h-3zM131 347h1v1h-1zM218 347h1v1h-1zM309 347h12v1h-12zM481 347h4v1h-4zM561 347h4v1h-4zM573 347h8v1h-8zM8 348h1v1h-1zM132 348h2v1h-2zM217 348h1v1h-1zM321 348h15v1h-15zM480 348h1v1h-1zM565 348h8v1h-8zM5 349h3v1h-3zM134 349h1v1h-1zM216 349h1v1h-1zM336 349h1v1h-1zM477 349h3v1h-3zM2 350h3v1h-3zM135 350h1v1h-1zM215 350h1v1h-1zM337 350h3v1h-3zM476 350h1v1h-1zM136 351h2v1h-2zM214 351h1v1h-1zM340 351h1v1h-1zM473 351h3v1h-3zM138 352h2v1h-2zM212 352h2v1h-2zM341 352h4v1h-4zM472 352h1v1h-1zM140 353h1v1h-1zM211 353h1v1h-1zM345 353h2v1h-2zM469 353h3v1h-3zM141 354h2v1h-2zM210 354h1v1h-1zM347 354h1v1h-1zM468 354h1v1h-1zM143 355h1v1h-1zM208 355h2v1h-2zM348 355h2v1h-2zM453 355h3v1h-3zM465 355h3v1h-3zM144 356h2v1h-2zM207 356h1v1h-1zM350 356h7v1h-7zM449 356h4v1h-4zM456 356h1v1h-1zM464 356h1v1h-1zM146 357h1v1h-1zM206 357h1v1h-1zM357 357h4v1h-4zM445 357h4v1h-4zM457 357h7v1h-7zM147 358h1v1h-1zM204 358h2v1h-2zM361 358h8v1h-8zM444 358h1v1h-1zM148 359h2v1h-2zM203 359h1v1h-1zM369 359h4v1h-4zM377 359h8v1h-8zM441 359h3v1h-3zM150 360h2v1h-2zM201 360h2v1h-2zM373 360h4v1h-4zM385 360h3v1h-3zM440 360h1v1h-1zM152 361h1v1h-1zM200 361h1v1h-1zM388 361h1v1h-1zM438 361h2v1h-2zM153 362h3v1h-3zM197 362h3v1h-3zM389 362h3v1h-3zM436 362h2v1h-2zM156 363h1v1h-1zM193 363h4v1h-4zM392 363h1v1h-1zM435 363h1v1h-1zM157 364h3v1h-3zM192 364h1v1h-1zM393 364h8v1h-8zM433 364h2v1h-2zM160 365h1v1h-1zM189 365h3v1h-3zM401 365h8v1h-8zM429 365h4v1h-4zM161 366h3v1h-3zM188 366h1v1h-1zM409 366h12v1h-12zM425 366h4v1h-4zM164 367h1v1h-1zM185 367h3v1h-3zM421 367h4v1h-4zM165 368h4v1h-4zM184 368h1v1h-1zM169 369h4v1h-4zM177 369h7v1h-7zM173 370h4v1h-4z" fill="#3cb371"/>
<path d="M829 193h2v1h-2zM828 194h1v1h-1zM831 194h1v1h-1zM826 195h2v1h-2zM832 195h1v1h-1zM825 196h1v1h-1zM832 196h1v1h-1zM824 197h1v1h-1zM833 197h1v1h-1zM824 198h1v1h-1zM834 198h1v1h-1zM823 199h1v1h-1zM834 199h1v1h-1zM822 200h1v1h-1zM835 200h1v1h-1zM822 201h1v1h-1zM835 201h1v1h-1zM821 202h1v1h-1zM836 202h1v1h-1zM820 203h1v1h-1zM836 203h1v1h-1zM820 204h1v1h-1zM837 204h1v1h-1zM820 205h1v1h-1zM837 205h1v1h-1zM819 206h1v1h-1zM838 206h1v1h-1zM818 207h1v1h-1zM838 207h1v1h-1zM818 208h1v1h-1zM838 208h1v1h-1zM818 209h1v1h-1zM839 209h1v1h-1zM817 210h1v1h-1zM839 210h1v1h-1zM817 211h1v1h-1zM840 211h1v1h-1zM817 212h1v1h-1zM840 212h1v1h-1zM817 213h1v1h-1zM840 213h1v1h-1zM816 214h1v1h-1zM841 214h1v1h-1zM816 215h1v1h-1zM841 215h1v1h-1zM816 216h1v1h-1zM842 216h1v1h-1zM815 217h1v1h-1zM842 217h1v1h-1zM815 218h1v1h-1zM842 218h1v1h-1zM815 219h1v1h-1zM843 219h1v1h-1zM815 220h1v1h-1zM843 220h1v1h-1zM814 221h1v1h-1zM843 221h1v1h-1zM814 222h1v1h-1zM844 222h1v1h-1zM814 223h1v1h-1zM844 223h1v1h-1zM813 224h1v1h-1zM844 224h1v1h-1zM813 225h1v1h-1zM845 225h1v1h-1zM813 226h1v1h-1zM845 226h1v1h-1zM813 227h1v1h-1zM845 227h1v1h-1zM812 228h1v1h-1zM846 228h1v1h-1zM812 229h1v1h-1zM846 229h1v1h-1zM812 230h1v1h-1zM846 230h1v1h-1zM812 231h1v1h-1zM847 231h1v1h-1zM811 232h1v1h-1zM847 232h1v1h-1zM811 233h1v1h-1zM848 233h1v1h-1zM811 234h1v1h-1zM848 234h1v1h-1zM811 235h1v1h-1zM849 235h1v1h-1zM810 236h1v1h-1zM849 236h1v1h-1zM810 237h1v1h-1zM850 237h1v1h-1zM810 238h1v1h-1zM850 238h1v1h-1zM809 239h1v1h-1zM850 239h1v1h-1zM809 240h1v1h-1zM851 240h1v1h-1zM808 241h1v1h-1zM851 241h1v1h-1zM808 242h1v1h-1zM851 242h1v1h-1zM808 243h1v1h-1zM852 243h1v1h-1zM807 244h1v1h-1zM852 244h1v1h-1zM807 245h1v1h-1zM852 245h1v1h-1zM806 246h1v1h-1zM853 246h1v1h-1zM806 247h1v1h-1zM853 247h1v1h-1zM806 248h1v1h-1zM853 248h1v1h-1zM894 248h3v1h-3zM805 249h1v1h-1zM854 249h1v1h-1zM894 249h1v1h-1zM897 249h2v1h-2zM805 250h1v1h-1zM854 250h1v1h-1zM893 250h1v1h-1zM899 250h1v1h-1zM804 251h1v1h-1zM854 251h1v1h-1zM892 251h1v1h-1zM899 251h1v1h-1zM804 252h1v1h-1zM855 252h1v1h-1zM892 252h1v1h-1zM900 252h1v1h-1zM804 253h1v1h-1zM855 253h1v1h-1zM892 253h1v1h-1zM901 253h1v1h-1zM803 254h1v1h-1zM856 254h1v1h-1zM891 254h1v1h-1zM901 254h1v1h-1zM803 255h1v1h-1zM856 255h1v1h-1zM890 255h1v1h-1zM902 255h1v1h-1zM802 256h1v1h-1zM856 256h1v1h-1zM890 256h1v1h-1zM902 256h1v1h-1zM802 257h1v1h-1zM857 257h1v1h-1zM890 257h1v1h-1zM903 257h1v1h-1zM802 258h1v1h-1zM857 258h1v1h-1zM889 258h1v1h-1zM904 258h1v1h-1zM801 259h1v1h-1zM858 259h1v1h-1zM889 259h1v1h-1zM904 259h1v1h-1zM801 260h1v1h-1zM858 260h1v1h-1zM889 260h1v1h-1zM904 260h1v1h-1zM800 261h1v1h-1zM858 261h1v1h-1zM888 261h1v1h-1zM905 261h1v1h-1zM800 262h1v1h-1zM859 262h1v1h-1zM888 262h1v1h-1zM906 262h1v1h-1zM800 263h1v1h-1zM859 263h1v1h-1zM888 263h1v1h-1zM906 263h1v1h-1zM799 264h1v1h-1zM860 264h1v1h-1zM887 264h1v1h-1zM906 264h1v1h-1zM799 265h1v1h-1zM860 265h1v1h-1zM887 265h1v1h-1zM907 265h1v1h-1zM798 266h1v1h-1zM861 266h1v1h-1zM887 266h1v1h-1zM908 266h1v1h-1zM798 267h1v1h-1zM861 267h1v1h-1zM886 267h1v1h-1zM908 267h1v1h-1zM922 267h1v1h-1zM797 268h1v1h-1zM862 268h1v1h-1zM886 268h1v1h-1zM908 268h1v1h-1zM920 268h2v1h-2zM796 269h1v1h-1zM862 269h1v1h-1zM886 269h1v1h-1zM909 269h1v1h-1zM919 269h1v1h-1zM795 270h1v1h-1zM863 270h1v1h-1zM885 270h1v1h-1zM910 270h1v1h-1zM917 270h2v1h-2zM794 271h1v1h-1zM864 271h1v1h-1zM885 271h1v1h-1zM910 271h3v1h-3zM916 271h1v1h-1zM794 272h1v1h-1zM864 272h1v1h-1zM884 272h1v1h-1zM913 272h3v1h-3zM793 273h1v1h-1zM865 273h1v1h-1zM884 273h1v1h-1zM793 274h1v1h-1zM866 274h1v1h-1zM883 274h1v1h-1zM793 275h1v1h-1zM867 275h1v1h-1zM883 275h1v1h-1zM792 276h1v1h-1zM867 276h1v1h-1zM882 276h1v1h-1zM792 277h1v1h-1zM868 277h1v1h-1zM882 277h1v1h-1zM791 278h1v1h-1zM868 278h1v1h-1zM881 278h1v1h-1zM791 279h1v1h-1zM869 279h1v1h-1zM881 279h1v1h-1zM791 280h1v1h-1zM869 280h1v1h-1zM880 280h1v1h-1zM790 281h1v1h-1zM870 281h1v1h-1zM879 281h1v1h-1zM790 282h1v1h-1zM871 282h1v1h-1zM879 282h1v1h-1zM790 283h1v1h-1zM872 283h2v1h-2zM877 283h2v1h-2zM789 284h1v1h-1zM874 284h3v1h-3zM789 285h1v1h-1zM788 286h1v1h-1zM788 287h1v1h-1zM787 288h1v1h-1zM787 289h1v1h-1zM786 290h1v1h-1zM786 291h1v1h-1zM785 292h1v1h-1zM785 293h1v1h-1zM784 294h1v1h-1zM783 295h1v1h-1zM783 296h1v1h-1zM782 297h1v1h-1zM781 298h1v1h-1zM781 299h1v1h-1zM780 300h1v1h-1zM779 301h1v1h-1zM779 302h1v1h-1zM778 303h1v1h-1zM778 304h1v1h-1zM777 305h1v1h-1zM777 306h1v1h-1zM776 307h1v1h-1zM776 308h1v1h-1zM776 309h1v1h-1zM775 310h1v1h-1zM775 311h1v1h-1zM774 312h1v1h-1zM774 313h1v1h-1zM774 314h1v1h-1zM773 315h1v1h-1zM773 316h1v1h-1zM772 317h1v1h-1zM772 318h1v1h-1zM771 319h1v1h-1zM771 320h1v1h-1zM770 321h1v1h-1zM770 322h1v1h-1zM770 323h1v1h-1zM769 324h1v1h-1zM769 325h1v1h-1zM769 326h1v1h-1zM768 327h1v1h-1zM768 328h1v1h-1zM767 329h1v1h-1zM767 330h1v1h-1zM767 331h1v1h-1zM766 332h1v1h-1zM766 333h1v1h-1zM765 334h1v1h-1zM764 335h1v1h-1zM764 336h1v1h-1zM646 337h2v1h-2zM763 337h1v1h-1zM646 338h1v1h-1zM648 338h1v1h-1zM762 338h1v1h-1zM645 339h1v1h-1zM649 339h2v1h-2zM760 339h2v1h-2zM644 340h1v1h-1zM651 340h1v1h-1zM759 340h1v1h-1zM644 341h1v1h-1zM652 341h1v1h-1zM758 341h1v1h-1zM644 342h1v1h-1zM653 342h1v1h-1zM682 342h17v1h-17zM756 342h2v1h-2zM643 343h1v1h-1zM654 343h3v1h-3zM681 343h1v1h-1zM699 343h1v1h-1zM755 343h1v1h-1zM642 344h1v1h-1zM657 344h4v1h-4zM680 344h1v1h-1zM700 344h1v1h-1zM753 344h2v1h-2zM61 345h12v1h-12zM642 345h1v1h-1zM661 345h2v1h-2zM679 345h1v1h-1zM700 345h1v1h-1zM752 345h1v1h-1zM58 346h3v1h-3zM73 346h8v1h-8zM642 346h1v1h-1zM663 346h1v1h-1zM677 346h2v1h-2zM701 346h1v1h-1zM749 346h3v1h-3zM57 347h1v1h-1zM81 347h4v1h-4zM641 347h1v1h-1zM664 347h2v1h-2zM676 347h1v1h-1zM702 347h1v1h-1zM745 347h4v1h-4zM56 348h1v1h-1zM85 348h4v1h-4zM641 348h1v1h-1zM666 348h3v1h-3zM673 348h3v1h-3zM703 348h1v1h-1zM744 348h1v1h-1zM55 349h1v1h-1zM89 349h4v1h-4zM640 349h1v1h-1zM669 349h4v1h-4zM704 349h2v1h-2zM742 349h2v1h-2zM54 350h1v1h-1zM93 350h2v1h-2zM640 350h1v1h-1zM706 350h3v1h-3zM741 350h1v1h-1zM53 351h1v1h-1zM95 351h1v1h-1zM639 351h1v1h-1zM709 351h3v1h-3zM740 351h1v1h-1zM52 352h1v1h-1zM96 352h1v1h-1zM639 352h1v1h-1zM712 352h1v1h-1zM739 352h1v1h-1zM51 353h1v1h-1zM97 353h1v1h-1zM638 353h1v1h-1zM713 353h2v1h-2zM738 353h1v1h-1zM49 354h2v1h-2zM98 354h1v1h-1zM638 354h1v1h-1zM715 354h1v1h-1zM737 354h1v1h-1zM48 355h1v1h-1zM99 355h1v1h-1zM637 355h1v1h-1zM716 355h1v1h-1zM736 355h1v1h-1zM46 356h2v1h-2zM100 356h1v1h-1zM637 356h1v1h-1zM716 356h1v1h-1zM735 356h1v1h-1zM45 357h1v1h-1zM100 357h1v1h-1zM636 357h1v1h-1zM717 357h1v1h-1zM734 357h1v1h-1zM44 358h1v1h-1zM101 358h1v1h-1zM636 358h1v1h-1zM718 358h2v1h-2zM733 358h1v1h-1zM43 359h1v1h-1zM102 359h1v1h-1zM635 359h1v1h-1zM720 359h1v1h-1zM732 359h1v1h-1zM42 360h1v1h-1zM103 360h1v1h-1zM509 360h3v1h-3zM635 360h1v1h-1zM721 360h2v1h-2zM731 360h1v1h-1zM41 361h1v1h-1zM104 361h1v1h-1zM508 361h1v1h-1zM512 361h1v1h-1zM634 361h1v1h-1zM723 361h1v1h-1zM729 361h2v1h-2zM40 362h1v1h-1zM104 362h1v1h-1zM305 362h8v1h-8zM506 362h2v1h-2zM513 362h6v1h-6zM541 362h2v1h-2zM633 362h1v1h-1zM724 362h2v1h-2zM728 362h1v1h-1zM39 363h1v1h-1zM105 363h1v1h-1zM302 363h3v1h-3zM313 363h4v1h-4zM505 363h1v1h-1zM519 363h1v1h-1zM525 363h3v1h-3zM537 363h4v1h-4zM543 363h1v1h-1zM632 363h1v1h-1zM726 363h2v1h-2zM38 364h1v1h-1zM106 364h1v1h-1zM302 364h1v1h-1zM317 364h4v1h-4zM505 364h1v1h-1zM520 364h2v1h-2zM524 364h1v1h-1zM528 364h1v1h-1zM536 364h1v1h-1zM544 364h2v1h-2zM632 364h1v1h-1zM37 365h1v1h-1zM107 365h1v1h-1zM301 365h1v1h-1zM321 365h12v1h-12zM504 365h1v1h-1zM522 365h2v1h-2zM529 365h7v1h-7zM546 365h2v1h-2zM631 365h1v1h-1zM36 366h1v1h-1zM108 366h2v1h-2zM300 366h1v1h-1zM333 366h2v1h-2zM503 366h1v1h-1zM548 366h1v1h-1zM630 366h1v1h-1zM35 367h1v1h-1zM110 367h2v1h-2zM300 367h1v1h-1zM335 367h1v1h-1zM503 367h1v1h-1zM549 367h4v1h-4zM629 367h1v1h-1zM34 368h1v1h-1zM112 368h1v1h-1zM300 368h1v1h-1zM336 368h1v1h-1zM502 368h1v1h-1zM553 368h3v1h-3zM628 368h1v1h-1zM32 369h2v1h-2zM113 369h4v1h-4zM299 369h1v1h-1zM337 369h1v1h-1zM501 369h1v1h-1zM556 369h1v1h-1zM628 369h1v1h-1zM31 370h1v1h-1zM117 370h3v1h-3zM261 370h3v1h-3zM298 370h1v1h-1zM338 370h1v1h-1zM501 370h1v1h-1zM557 370h4v1h-4zM627 370h1v1h-1zM29 371h2v1h-2zM120 371h1v1h-1zM246 371h6v1h-6zM260 371h1v1h-1zM264 371h1v1h-1zM298 371h1v1h-1zM339 371h1v1h-1zM500 371h1v1h-1zM561 371h4v1h-4zM626 371h1v1h-1zM25 372h4v1h-4zM121 372h2v1h-2zM246 372h1v1h-1zM252 372h1v1h-1zM257 372h3v1h-3zM265 372h4v1h-4zM296 372h2v1h-2zM340 372h2v1h-2zM500 372h1v1h-1zM565 372h8v1h-8zM625 372h1v1h-1zM24 373h1v1h-1zM123 373h1v1h-1zM245 373h1v1h-1zM253 373h4v1h-4zM269 373h4v1h-4zM295 373h1v1h-1zM342 373h1v1h-1zM499 373h1v1h-1zM573 373h4v1h-4zM625 373h1v1h-1zM22 374h2v1h-2zM123 374h1v1h-1zM244 374h1v1h-1zM273 374h4v1h-4zM293 374h2v1h-2zM343 374h1v1h-1zM499 374h1v1h-1zM577 374h4v1h-4zM624 374h1v1h-1zM21 375h1v1h-1zM124 375h1v1h-1zM244 375h1v1h-1zM277 375h4v1h-4zM289 375h4v1h-4zM344 375h1v1h-1zM498 375h1v1h-1zM581 375h2v1h-2zM623 375h1v1h-1zM20 376h1v1h-1zM124 376h1v1h-1zM244 376h1v1h-1zM281 376h8v1h-8zM344 376h1v1h-1zM497 376h1v1h-1zM583 376h1v1h-1zM623 376h1v1h-1zM20 377h1v1h-1zM125 377h1v1h-1zM243 377h1v1h-1zM345 377h1v1h-1zM497 377h1v1h-1zM584 377h1v1h-1zM617 377h6v1h-6zM19 378h1v1h-1zM125 378h1v1h-1zM242 378h1v1h-1zM346 378h1v1h-1zM496 378h1v1h-1zM585 378h1v1h-1zM613 378h4v1h-4zM18 379h1v1h-1zM126 379h2v1h-2zM242 379h1v1h-1zM347 379h1v1h-1zM496 379h1v1h-1zM586 379h3v1h-3zM610 379h3v1h-3zM17 380h1v1h-1zM128 380h1v1h-1zM241 380h1v1h-1zM348 380h1v1h-1zM495 380h1v1h-1zM589 380h2v1h-2zM609 380h1v1h-1zM16 381h1v1h-1zM129 381h3v1h-3zM240 381h1v1h-1zM348 381h1v1h-1zM495 381h1v1h-1zM591 381h1v1h-1zM608 381h1v1h-1zM15 382h1v1h-1zM132 382h1v1h-1zM239 382h1v1h-1zM349 382h1v1h-1zM494 382h1v1h-1zM592 382h2v1h-2zM608 382h1v1h-1zM14 383h1v1h-1zM133 383h2v1h-2zM238 383h1v1h-1zM350 383h3v1h-3zM492 383h2v1h-2zM594 383h1v1h-1zM607 383h1v1h-1zM13 384h1v1h-1zM135 384h1v1h-1zM237 384h1v1h-1zM353 384h4v1h-4zM365 384h12v1h-12zM491 384h1v1h-1zM595 384h1v1h-1zM605 384h2v1h-2zM12 385h1v1h-1zM135 385h1v1h-1zM236 385h1v1h-1zM357 385h8v1h-8zM377 385h7v1h-7zM489 385h2v1h-2zM596 385h2v1h-2zM601 385h4v1h-4zM12 386h1v1h-1zM136 386h1v1h-1zM236 386h1v1h-1zM384 386h1v1h-1zM488 386h1v1h-1zM598 386h3v1h-3zM11 387h1v1h-1zM136 387h1v1h-1zM235 387h1v1h-1zM385 387h2v1h-2zM485 387h3v1h-3zM9 388h2v1h-2zM137 388h1v1h-1zM234 388h1v1h-1zM387 388h1v1h-1zM484 388h1v1h-1zM8 389h1v1h-1zM137 389h1v1h-1zM233 389h1v1h-1zM388 389h2v1h-2zM482 389h2v1h-2zM5 390h3v1h-3zM138 390h3v1h-3zM232 390h1v1h-1zM390 390h3v1h-3zM481 390h1v1h-1zM4 391h1v1h-1zM141 391h3v1h-3zM232 391h1v1h-1zM393 391h4v1h-4zM480 391h1v1h-1zM2 392h2v1h-2zM144 392h1v1h-1zM149 392h3v1h-3zM231 392h1v1h-1zM397 392h4v1h-4zM479 392h1v1h-1zM145 393h4v1h-4zM152 393h1v1h-1zM230 393h1v1h-1zM401 393h4v1h-4zM429 393h4v1h-4zM477 393h2v1h-2zM153 394h4v1h-4zM173 394h8v1h-8zM229 394h1v1h-1zM405 394h12v1h-12zM428 394h1v1h-1zM433 394h2v1h-2zM476 394h1v1h-1zM157 395h7v1h-7zM169 395h4v1h-4zM181 395h3v1h-3zM228 395h1v1h-1zM417 395h4v1h-4zM425 395h3v1h-3zM435 395h1v1h-1zM474 395h2v1h-2zM164 396h1v1h-1zM168 396h1v1h-1zM184 396h1v1h-1zM228 396h1v1h-1zM421 396h4v1h-4zM436 396h1v1h-1zM472 396h2v1h-2zM165 397h3v1h-3zM185 397h2v1h-2zM227 397h1v1h-1zM437 397h1v1h-1zM471 397h1v1h-1zM187 398h1v1h-1zM226 398h1v1h-1zM438 398h1v1h-1zM470 398h1v1h-1zM188 399h1v1h-1zM225 399h1v1h-1zM439 399h1v1h-1zM469 399h1v1h-1zM188 400h1v1h-1zM224 400h1v1h-1zM440 400h2v1h-2zM468 400h1v1h-1zM189 401h1v1h-1zM223 401h1v1h-1zM442 401h1v1h-1zM467 401h1v1h-1zM190 402h1v1h-1zM221 402h2v1h-2zM443 402h1v1h-1zM465 402h2v1h-2zM191 403h1v1h-1zM220 403h1v1h-1zM444 403h2v1h-2zM457 403h4v1h-4zM464 403h1v1h-1zM192 404h2v1h-2zM218 404h2v1h-2zM446 404h11v1h-11zM461 404h3v1h-3zM194 405h3v1h-3zM217 405h1v1h-1zM197 406h4v1h-4zM205 406h4v1h-4zM216 406h1v1h-1zM201 407h4v1h-4zM209 407h4v1h-4zM215 407h1v1h-1zM213 408h2v1h-2z" fill="#3cb371"/>
</g>
<rect x="2" y="65" width="1163" height="2" fill="#ff0000"/>
<rect x="2" y="137" width="1163" height="2" fill="#00ff00"/>
<rect x="2" y="173" width="1162" height="1" fill="#000000"/>
<rect x="2" y="209" width="1163" height="2" fill="#0000ff"/>
<rect x="2" y="281" width="1163" height="2" fill="#0000ff"/>
<rect x="1" y="135" width="6" height="6" fill="#00ff00"/>
<rect x="3" y="137" width="2" height="2" fill="#fff"/>
<rect x="1158" y="135" width="6" height="6" fill="#00ff00"/>
<rect x="1160" y="137" width="2" height="2" fill="#fff"/>
<rect x="1" y="207" width="6" height="6" fill="#0000ff"/>
<rect x="3" y="209" width="2" height="2" fill="#fff"/>
<rect x="1158" y="207" width="6" height="6" fill="#0000ff"/>
<rect x="1160" y="209" width="2" height="2" fill="#fff"/>
<rect x="1" y="279" width="6" height="6" fill="#0000ff"/>
<rect x="3" y="281" width="2" height="2" fill="#fff"/>
<rect x="1158" y="279" width="6" height="6" fill="#0000ff"/>
<rect x="1160" y="281" width="2" height="2" fill="#fff"/>
<polygon points="925.5,26 935.5,26 930.5,31" fill="#000"/>
<g clip-path="url(#cd)">
<rect x="1" y="463" width="3" height="15" fill="#00ff00"/>
<rect x="5" y="464" width="3" height="14" fill="#00ff00"/>
<rect x="9" y="465" width="3" height="13" fill="#00ff00"/>
<rect x="13" y="466" width="3" height="12" fill="#00ff00"/>
<rect x="17" y="466" width="3" height="12" fill="#00ff00"/>
<rect x="21" y="466" width="3" height="12" fill="#00ff00"/>
<rect x="25" y="465" width="3" height="13" fill="#00ff00"/>
<rect x="29" y="462" width="3" height="16" fill="#00ff00"/>
<rect x="33" y="462" width="3" height="16" fill="#00ff00"/>
<rect x="37" y="463" width="3" height="15" fill="#00ff00"/>
<rect x="41" y="465" width="3" height="13" fill="#00ff00"/>
<rect x="45" y="466" width="3" height="12" fill="#00ff00"/>
<rect x="49" y="467" width="3" height="11" fill="#00ff00"/>
<rect x="53" y="468" width="3" height="10" fill="#00ff00"/>
<rect x="57" y="469" width="3" height="9" fill="#00ff00"/>
<rect x="61" y="469" width="3" height="9" fill="#00ff00"/>
<rect x="65" y="470" width="3" height="8" fill="#00ff00"/>
<rect x="69" y="470" width="3" height="8" fill="#00ff00"/>
<rect x="73" y="472" width="3" height="6" fill="#00ff00"/>
<rect x="77" y="473" width="3" height="5" fill="#00ff00"/>
<rect x="81" y="475" width="3" height="3" fill="#00ff00"/>
<rect x="85" y="477" width="3" height="1" fill="#00ff00"/>
<rect x="89" y="478" width="3" height="1" fill="#00ff00"/>
<rect x="93" y="478" width="3" height="1" fill="#00ff00"/>
<rect x="97" y="478" width="3" height="4" fill="#00ff00"/>
<rect x="101" y="478" width="3" height="6" fill="#00ff00"/>
<rect x="105" y="478" width="3" height="8" fill="#00ff00"/>
<rect x="109" y="478" width="3" height="10" fill="#00ff00"/>
<rect x="113" y="478" width="3" height="10" fill="#00ff00"/>
<rect x="117" y="478" width="3" height="10" fill="#00ff00"/>
<rect x="121" y="478" width="3" height="11" fill="#00ff00"/>
<rect x="125" y="478" width="3" height="12" fill="#00ff00"/>
<rect x="129" y="478" width="3" height="13" fill="#00ff00"/>
<rect x="133" y="478" width="3" height="13" fill="#00ff00"/>
<rect x="137" y="478" width="3" height="15" fill="#00ff00"/>
<rect x="141" y="478" width="3" height="15" fill="#00ff00"/>
<rect x="145" y="478" width="3" height="16" fill="#00ff00"/>
<rect x="149" y="478" width="3" height="16" fill="#00ff00"/>
<rect x="153" y="478" width="3" height="16" fill="#00ff00"/>
<rect x="157" y="478" width="3" height="16" fill="#00ff00"/>
<rect x="161" y="478" width="3" height="15" fill="#00ff00"/>
<rect x="165" y="478" width="3" height="15" fill="#00ff00"/>
<rect x="169" y="478" width="3" height="12" fill="#00ff00"/>
<rect x="173" y="478" width="3" height="9" fill="#00ff00"/>
<rect x="177" y="478" width="3" height="7" fill="#00ff00"/>
<rect x="181" y="478" width="3" height="4" fill="#00ff00"/>
<rect x="185" y="478" width="3" height="1" fill="#00ff00"/>
<rect x="189" y="474" width="3" height="4" fill="#00ff00"/>
<rect x="193" y="471" width="3" height="7" fill="#00ff00"/>
<rect x="197" y="470" width="3" height="8" fill="#00ff00"/>
<rect x="201" y="468" width="3" height="10" fill="#00ff00"/>
<rect x="205" y="467" width="3" height="11" fill="#00ff00"/>
<rect x="209" y="464" width="3" height="14" fill="#00ff00"/>
<rect x="213" y="462" width="3" height="16" fill="#00ff00"/>
<rect x="217" y="461" width="3" height="17" fill="#00ff00"/>
<rect x="221" y="459" width="3" height="19" fill="#00ff00"/>
<rect x="225" y="463" width="3" height="15" fill="#00ff00"/>
<rect x="229" y="465" width="3" height="13" fill="#00ff00"/>
<rect x="233" y="468" width="3" height="10" fill="#00ff00"/>
<rect x="237" y="472" width="3" height="6" fill="#00ff00"/>
<rect x="241" y="474" width="3" height="4" fill="#00ff00"/>
<rect x="245" y="476" width="3" height="2" fill="#00ff00"/>
<rect x="249" y="478" width="3" height="2" fill="#00ff00"/>
<rect x="253" y="478" width="3" height="3" fill="#00ff00"/>
<rect x="257" y="478" width="3" height="2" fill="#00ff00"/>
<rect x="261" y="478" width="3" height="1" fill="#00ff00"/>
<rect x="265" y="478" width="3" height="2" fill="#00ff00"/>
<rect x="269" y="478" width="3" height="2" fill="#00ff00"/>
<rect x="273" y="478" width="3" height="2" fill="#00ff00"/>
<rect x="277" y="478" width="3" height="3" fill="#00ff00"/>
<rect x="281" y="478" width="3" height="3" fill="#00ff00"/>
<rect x="285" y="478" width="3" height="2" fill="#00ff00"/>
<rect x="289" y="478" width="3" height="1" fill="#00ff00"/>
<rect x="293" y="478" width="3" height="2" fill="#00ff00"/>
<rect x="297" y="478" width="3" height="2" fill="#00ff00"/>
<rect x="301" y="478" width="3" height="1" fill="#00ff00"/>
<rect x="305" y="478" width="3" height="1" fill="#00ff00"/>
<rect x="309" y="478" width="3" height="1" fill="#00ff00"/>
<rect x="313" y="478" width="3" height="3" fill="#00ff00"/>
<rect x="317" y="478" width="3" height="4" fill="#00ff00"/>
<rect x="321" y="478" width="3" height="5" fill="#00ff00"/>
<rect x="325" y="478" width="3" height="5" fill="#00ff00"/>
<rect x="329" y="478" width="3" height="6" fill="#00ff00"/>
<rect x="333" y="478" width="3" height="7" fill="#00ff00"/>
<rect x="337" y="478" width="3" height="9" fill="#00ff00"/>
<rect x="341" y="478" width="3" height="10" fill="#00ff00"/>
<rect x="345" y="478" width="3" height="12" fill="#00ff00"/>
<rect x="349" y="478" width="3" height="13" fill="#00ff00"/>
<rect x="353" y="478" width="3" height="11" fill="#00ff00"/>
<rect x="357" y="478" width="3" height="11" fill="#00ff00"/>
<rect x="361" y="478" width="3" height="9" fill="#00ff00"/>
<rect x="365" y="478" width="3" height="7" fill="#00ff00"/>
<rect x="369" y="478" width="3" height="6" fill="#00ff00"/>
<rect x="373" y="478" width="3" height="6" fill="#00ff00"/>
<rect x="377" y="478" width="3" height="2" fill="#00ff00"/>
<rect x="381" y="477" width="3" height="1" fill="#00ff00"/>
<rect x="385" y="478" width="3" height="2" fill="#00ff00"/>
<rect x="389" y="478" width="3" height="5" fill="#00ff00"/>
<rect x="393" y="478" width="3" height="6" fill="#00ff00"/>
<rect x="397" y="478" width="3" height="7" fill="#00ff00"/>
<rect x="401" y="478" width="3" height="7" fill="#00ff00"/>
<rect x="405" y="478" width="3" height="7" fill="#00ff00"/>
<rect x="409" y="478" width="3" height="7" fill="#00ff00"/>
<rect x="413" y="478" width="3" height="6" fill="#00ff00"/>
<rect x="417" y="478" width="3" height="7" fill="#00ff00"/>
<rect x="421" y="478" width="3" height="8" fill="#00ff00"/>
<rect x="425" y="478" width="3" height="8" fill="#00ff00"/>
<rect x="429" y="478" width="3" height="6" fill="#00ff00"/>
<rect x="433" y="478" width="3" height="3" fill="#00ff00"/>
<rect x="437" y="475" width="3" height="3" fill="#00ff00"/>
<rect x="441" y="470" width="3" height="8" fill="#00ff00"/>
<rect x="445" y="467" width="3" height="11" fill="#00ff00"/>
<rect x="449" y="466" width="3" height="12" fill="#00ff00"/>
<rect x="453" y="468" width="3" height="10" fill="#00ff00"/>
<rect x="457" y="470" width="3" height="8" fill="#00ff00"/>
<rect x="461" y="471" width="3" height="7" fill="#00ff00"/>
<rect x="465" y="470" width="3" height="8" fill="#00ff00"/>
<rect x="469" y="470" width="3" height="8" fill="#00ff00"/>
<rect x="473" y="470" width="3" height="8" fill="#00ff00"/>
<rect x="477" y="470" width="3" height="8" fill="#00ff00"/>
<rect x="481" y="470" width="3" height="8" fill="#00ff00"/>
<rect x="485" y="470" width="3" height="8" fill="#00ff00"/>
<rect x="489" y="470" width="3" height="8" fill="#00ff00"/>
<rect x="493" y="470" width="3" height="8" fill="#00ff00"/>
<rect x="497" y="471" width="3" height="7" fill="#00ff00"/>
<rect x="501" y="471" width="3" height="7" fill="#00ff00"/>
<rect x="505" y="472" width="3" height="6" fill="#00ff00"/>
<rect x="509" y="474" width="3" height="4" fill="#00ff00"/>
<rect x="513" y="476" width="3" height="2" fill="#00ff00"/>
<rect x="517" y="477" width="3" height="1" fill="#00ff00"/>
<rect x="521" y="478" width="3" height="2" fill="#00ff00"/>
<rect x="525" y="478" width="3" height="2" fill="#00ff00"/>
<rect x="529" y="478" width="3" height="4" fill="#00ff00"/>
<rect x="533" y="478" width="3" height="2" fill="#00ff00"/>
<rect x="537" y="476" width="3" height="2" fill="#00ff00"/>
<rect x="541" y="475" width="3" height="3" fill="#00ff00"/>
<rect x="545" y="477" width="3" height="1" fill="#00ff00"/>
<rect x="549" y="478" width="3" height="2" fill="#00ff00"/>
<rect x="553" y="478" width="3" height="2" fill="#00ff00"/>
<rect x="557" y="478" width="3" height="4" fill="#00ff00"/>
<rect x="561" y="478" width="3" height="4" fill="#00ff00"/>
<rect x="565" y="478" width="3" height="4" fill="#00ff00"/>
<rect x="569" y="478" width="3" height="2" fill="#00ff00"/>
<rect x="573" y="476" width="3" height="2" fill="#00ff00"/>
<rect x="577" y="475" width="3" height="3" fill="#00ff00"/>
<rect x="581" y="473" width="3" height="5" fill="#00ff00"/>
<rect x="585" y="469" width="3" height="9" fill="#00ff00"/>
<rect x="589" y="466" width="3" height="12" fill="#00ff00"/>
<rect x="593" y="463" width="3" height="15" fill="#00ff00"/>
<rect x="597" y="460" width="3" height="18" fill="#00ff00"/>
<rect x="601" y="457" width="3" height="21" fill="#00ff00"/>
<rect x="605" y="457" width="3" height="21" fill="#00ff00"/>
<rect x="609" y="459" width="3" height="19" fill="#00ff00"/>
<rect x="613" y="460" width="3" height="18" fill="#00ff00"/>
<rect x="617" y="462" width="3" height="16" fill="#00ff00"/>
<rect x="621" y="462" width="3" height="16" fill="#00ff00"/>
<rect x="625" y="464" width="3" height="14" fill="#00ff00"/>
<rect x="629" y="466" width="3" height="12" fill="#00ff00"/>
<rect x="633" y="468" width="3" height="10" fill="#00ff00"/>
<rect x="637" y="469" width="3" height="9" fill="#00ff00"/>
<rect x="641" y="469" width="3" height="9" fill="#00ff00"/>
<rect x="645" y="470" width="3" height="8" fill="#00ff00"/>
<rect x="649" y="474" width="3" height="4" fill="#00ff00"/>
<rect x="653" y="477" width="3" height="1" fill="#00ff00"/>
<rect x="657" y="478" width="3" height="2" fill="#00ff00"/>
<rect x="661" y="478" width="3" height="3" fill="#00ff00"/>
<rect x="665" y="478" width="3" height="3" fill="#00ff00"/>
<rect x="669" y="478" width="3" height="3" fill="#00ff00"/>
<rect x="673" y="478" width="3" height="1" fill="#00ff00"/>
<rect x="677" y="476" width="3" height="2" fill="#00ff00"/>
<rect x="681" y="475" width="3" height="3" fill="#00ff00"/>
<rect x="685" y="473" width="3" height="5" fill="#00ff00"/>
<rect x="689" y="473" width="3" height="5" fill="#00ff00"/>
<rect x="693" y="473" width="3" height="5" fill="#00ff00"/>
<rect x="697" y="472" width="3" height="6" fill="#00ff00"/>
<rect x="701" y="469" width="3" height="9" fill="#00ff00"/>
<rect x="705" y="466" width="3" height="12" fill="#00ff00"/>
<rect x="709" y="464" width="3" height="14" fill="#00ff00"/>
<rect x="713" y="462" width="3" height="16" fill="#00ff00"/>
<rect x="717" y="458" width="3" height="20" fill="#00ff00"/>
<rect x="721" y="456" width="3" height="22" fill="#00ff00"/>
<rect x="725" y="453" width="3" height="25" fill="#00ff00"/>
<rect x="729" y="450" width="3" height="28" fill="#00ff00"/>
<rect x="733" y="448" width="3" height="30" fill="#00ff00"/>
<rect x="737" y="446" width="3" height="32" fill="#00ff00"/>
<rect x="741" y="443" width="3" height="35" fill="#00ff00"/>
<rect x="745" y="439" width="3" height="39" fill="#00ff00"/>
<rect x="749" y="435" width="3" height="43" fill="#00ff00"/>
<rect x="753" y="433" width="3" height="45" fill="#00ff00"/>
<rect x="757" y="431" width="3" height="47" fill="#00ff00"/>
<rect x="761" y="428" width="3" height="50" fill="#00ff00"/>
<rect x="765" y="426" width="3" height="52" fill="#00ff00"/>
<rect x="769" y="427" width="3" height="51" fill="#00ff00"/>
<rect x="773" y="424" width="3" height="54" fill="#00ff00"/>
<rect x="777" y="422" width="3" height="56" fill="#00ff00"/>
<rect x="781" y="420" width="3" height="58" fill="#00ff00"/>
<rect x="785" y="418" width="3" height="60" fill="#00ff00"/>
<rect x="789" y="415" width="3" height="63" fill="#00ff00"/>
<rect x="793" y="415" width="3" height="63" fill="#00ff00"/>
<rect x="797" y="412" width="3" height="66" fill="#00ff00"/>
<rect x="801" y="411" width="3" height="67" fill="#00ff00"/>
<rect x="805" y="411" width="3" height="67" fill="#00ff00"/>
<rect x="809" y="412" width="3" height="66" fill="#00ff00"/>
<rect x="813" y="416" width="3" height="62" fill="#00ff00"/>
<rect x="817" y="422" width="3" height="56" fill="#00ff00"/>
<rect x="821" y="434" width="3" height="44" fill="#00ff00"/>
<rect x="825" y="442" width="3" height="36" fill="#00ff00"/>
<rect x="829" y="449" width="3" height="29" fill="#00ff00"/>
<rect x="833" y="458" width="3" height="20" fill="#00ff00"/>
<rect x="837" y="467" width="3" height="11" fill="#00ff00"/>
<rect x="841" y="474" width="3" height="4" fill="#00ff00"/>
<rect x="845" y="478" width="3" height="4" fill="#00ff00"/>
<rect x="849" y="478" width="3" height="10" fill="#00ff00"/>
<rect x="853" y="478" width="3" height="14" fill="#00ff00"/>
<rect x="857" y="478" width="3" height="17" fill="#00ff00"/>
<rect x="861" y="478" width="3" height="19" fill="#00ff00"/>
<rect x="865" y="478" width="3" height="19" fill="#00ff00"/>
<rect x="869" y="478" width="3" height="20" fill="#00ff00"/>
<rect x="873" y="478" width="3" height="19" fill="#00ff00"/>
<rect x="877" y="478" width="3" height="19" fill="#00ff00"/>
<rect x="881" y="478" width="3" height="15" fill="#00ff00"/>
<rect x="885" y="478" width="3" height="11" fill="#00ff00"/>
<rect x="889" y="478" width="3" height="5" fill="#00ff00"/>
<rect x="893" y="477" width="3" height="1" fill="#00ff00"/>
<rect x="897" y="471" width="3" height="7" fill="#00ff00"/>
<rect x="901" y="465" width="3" height="13" fill="#00ff00"/>
<rect x="905" y="459" width="3" height="19" fill="#00ff00"/>
<rect x="909" y="452" width="3" height="26" fill="#00ff00"/>
<rect x="913" y="450" width="3" height="28" fill="#00ff00"/>
<rect x="917" y="458" width="3" height="20" fill="#00ff00"/>
<rect x="921" y="463" width="3" height="15" fill="#00ff00"/>
<polyline points="2.5,467 6.5,467 10.5,466 14.5,465 18.5,465 22.5,464 26.5,464 30.5,464 34.5,464 38.5,464 42.5,464 46.5,465 50.5,465 54.5,465 58.5,465 62.5,466 66.5,467 70.5,467 74.5,468 78.5,469 82.5,470 86.5,471 90.5,472 94.5,473 98.5,475 102.5,476 106.5,478 110.5,480 114.5,481 118.5,482 122.5,484 126.5,485 130.5,486 134.5,487 138.5,488 142.5,489 146.5,490 150.5,490 154.5,491 158.5,492 162.5,492 166.5,492 170.5,492 174.5,491 178.5,490 182.5,489 186.5,488 190.5,485 194.5,483 198.5,481 202.5,478 206.5,475 210.5,473 214.5,471 218.5,468 222.5,466 226.5,465 230.5,464 234.5,464 238.5,465 242.5,465 246.5,467 250.5,468 254.5,471 258.5,473 262.5,474 266.5,476 270.5,477 274.5,478 278.5,479 282.5,479 286.5,479 290.5,479 294.5,479 298.5,479 302.5,479 306.5,479 310.5,479 314.5,479 318.5,479 322.5,479 326.5,480 330.5,480 334.5,481 338.5,481 342.5,482 346.5,484 350.5,485 354.5,485 358.5,486 362.5,487 366.5,487 370.5,487 374.5,486 378.5,485 382.5,484 386.5,483 390.5,482 394.5,482 398.5,481 402.5,481 406.5,481 410.5,482 414.5,482 418.5,483 422.5,484 426.5,484 430.5,484 434.5,483 438.5,482 442.5,481 446.5,479 450.5,477 454.5,475 458.5,474 462.5,472 466.5,471 470.5,470 474.5,469 478.5,469 482.5,469 486.5,470 490.5,470 494.5,470 498.5,470 502.5,470 506.5,470 510.5,471 514.5,471 518.5,472 522.5,473 526.5,474 530.5,475 534.5,476 538.5,477 542.5,477 546.5,478 550.5,478 554.5,478 558.5,478 562.5,479 566.5,479 570.5,479 574.5,479 578.5,479 582.5,478 586.5,477 590.5,476 594.5,474 598.5,471 602.5,468 606.5,466 610.5,464 614.5,463 618.5,461 622.5,461 626.5,460 630.5,461 634.5,462 638.5,463 642.5,464 646.5,466 650.5,467 654.5,469 658.5,471 662.5,472 666.5,474 670.5,475 674.5,476 678.5,477 682.5,478 686.5,477 690.5,477 694.5,476 698.5,476 702.5,474 706.5,473 710.5,471 714.5,470 718.5,468 722.5,466 726.5,464 730.5,461 734.5,458 738.5,456 742.5,453 746.5,450 750.5,447 754.5,445 758.5,442 762.5,439 766.5,436 770.5,434 774.5,432 778.5,429 782.5,427 786.5,425 790.5,423 794.5,422 798.5,420 802.5,418 806.5,416 810.5,415 814.5,414 818.5,415 822.5,416 826.5,419 830.5,423 834.5,428 838.5,434 842.5,442 846.5,449 850.5,457 854.5,465 858.5,471 862.5,477 866.5,483 870.5,487 874.5,490 878.5,493 882.5,494 886.5,494 890.5,493 894.5,491 898.5,488 902.5,485 906.5,481 910.5,476 914.5,471 918.5,467 922.5,464" fill="none" stroke="#ff0000" stroke-width="2" stroke-linejoin="round"/>
</g>
<g clip-path="url(#cr)">
<line x1="3" y1="531.5" x2="1164" y2="531.5" stroke="#000" stroke-width="1" stroke-dasharray="3,3"/>
<line x1="3" y1="564.5" x2="1164" y2="564.5" stroke="#000" stroke-width="1" stroke-dasharray="3,3"/>
<polyline points="2.5,542 6.5,543 10.5,544 14.5,544 18.5,542 22.5,539 26.5,535 30.5,537 34.5,541 38.5,542 42.5,547 46.5,544 50.5,544 54.5,544 58.5,546 62.5,545 66.5,545 70.5,542 74.5,550 78.5,550 82.5,551 86.5,551 90.5,551 94.5,551 98.5,557 102.5,558 106.5,560 110.5,559 114.5,553 118.5,553 122.5,556 126.5,562 130.5,556 134.5,555 138.5,561 142.5,554 146.5,557 150.5,555 154.5,555 158.5,555 162.5,554 166.5,556 170.5,547 174.5,543 178.5,543 182.5,543 186.5,539 190.5,535 194.5,538 198.5,541 202.5,538 206.5,538 210.5,535 214.5,534 218.5,533 222.5,533 226.5,551 230.5,548 234.5,550 238.5,552 242.5,552 246.5,553 250.5,554 254.5,553 258.5,545 262.5,546 266.5,551 270.5,548 274.5,550 278.5,550 282.5,548 286.5,546 290.5,546 294.5,552 298.5,547 302.5,547 306.5,549 310.5,548 314.5,552 318.5,553 322.5,553 326.5,552 330.5,554 334.5,555 338.5,558 342.5,558 346.5,561 350.5,561 354.5,549 358.5,552 362.5,550 366.5,544 370.5,548 374.5,548 378.5,538 382.5,543 386.5,553 390.5,555 394.5,553 398.5,552 402.5,552 406.5,549 410.5,550 414.5,549 418.5,554 422.5,553 426.5,551 430.5,547 434.5,540 438.5,535 442.5,535 446.5,535 450.5,541 454.5,547 458.5,549 462.5,548 466.5,543 470.5,544 474.5,545 478.5,544 482.5,544 486.5,543 490.5,543 494.5,545 498.5,544 502.5,544 506.5,550 510.5,552 514.5,551 518.5,550 522.5,556 526.5,549 530.5,553 534.5,544 538.5,543 542.5,543 546.5,552 550.5,552 554.5,550 558.5,552 562.5,552 566.5,549 570.5,544 574.5,540 578.5,543 582.5,541 586.5,536 590.5,536 594.5,534 598.5,532 602.5,531 606.5,539 610.5,544 614.5,544 618.5,542 622.5,543 626.5,547 630.5,548 634.5,547 638.5,546 642.5,543 646.5,547 650.5,555 654.5,555 658.5,552 662.5,551 666.5,551 670.5,547 674.5,543 678.5,541 682.5,541 686.5,541 690.5,545 694.5,544 698.5,542 702.5,533 706.5,533 710.5,533 714.5,531 718.5,526 722.5,531 726.5,528 730.5,527 734.5,528 738.5,527 742.5,525 746.5,522 750.5,521 754.5,522 758.5,521 762.5,519 766.5,519 770.5,528 774.5,523 778.5,522 782.5,522 786.5,520 790.5,520 794.5,521 798.5,519 802.5,519 806.5,521 810.5,522 814.5,533 818.5,541 822.5,552 826.5,550 830.5,550 834.5,556 838.5,559 842.5,558 846.5,560 850.5,560 854.5,560 858.5,560 862.5,558 866.5,554 870.5,558 874.5,554 878.5,553 882.5,545 886.5,543 890.5,539 894.5,539 898.5,534 902.5,533 906.5,530 910.5,529 914.5,534 918.5,553 922.5,552" fill="none" stroke="#1e90ff" stroke-width="2" stroke-linejoin="round"/>
</g>
<rect x="1165" y="37" width="2" height="1" fill="#000"/>
<text x="1170.4" y="41" fill="#000" stroke="#000" stroke-width="0.22" font-family="Liberation Sans, sans-serif" font-size="9.6" textLength="32.4" lengthAdjust="spacingAndGlyphs" >1.00845</text>
<rect x="1165" y="70" width="2" height="1" fill="#000"/>
<text x="1170.4" y="74" fill="#000" stroke="#000" stroke-width="0.22" font-family="Liberation Sans, sans-serif" font-size="9.6" textLength="32.4" lengthAdjust="spacingAndGlyphs" >0.99920</text>
<rect x="1165" y="103" width="2" height="1" fill="#000"/>
<text x="1170.4" y="107" fill="#000" stroke="#000" stroke-width="0.22" font-family="Liberation Sans, sans-serif" font-size="9.6" textLength="32.4" lengthAdjust="spacingAndGlyphs" >0.98995</text>
<rect x="1165" y="136" width="2" height="1" fill="#000"/>
<text x="1170.4" y="140" fill="#000" stroke="#000" stroke-width="0.22" font-family="Liberation Sans, sans-serif" font-size="9.6" textLength="32.4" lengthAdjust="spacingAndGlyphs" >0.98070</text>
<rect x="1165" y="169" width="2" height="1" fill="#000"/>
<text x="1170.4" y="173" fill="#000" stroke="#000" stroke-width="0.22" font-family="Liberation Sans, sans-serif" font-size="9.6" textLength="32.4" lengthAdjust="spacingAndGlyphs" >0.97145</text>
<rect x="1165" y="202" width="2" height="1" fill="#000"/>
<text x="1170.4" y="206" fill="#000" stroke="#000" stroke-width="0.22" font-family="Liberation Sans, sans-serif" font-size="9.6" textLength="32.4" lengthAdjust="spacingAndGlyphs" >0.96220</text>
<rect x="1165" y="235" width="2" height="1" fill="#000"/>
<text x="1170.4" y="239" fill="#000" stroke="#000" stroke-width="0.22" font-family="Liberation Sans, sans-serif" font-size="9.6" textLength="32.4" lengthAdjust="spacingAndGlyphs" >0.95295</text>
<rect x="1165" y="268" width="2" height="1" fill="#000"/>
<text x="1170.4" y="272" fill="#000" stroke="#000" stroke-width="0.22" font-family="Liberation Sans, sans-serif" font-size="9.6" textLength="32.4" lengthAdjust="spacingAndGlyphs" >0.94370</text>
<rect x="1165" y="301" width="2" height="1" fill="#000"/>
<text x="1170.4" y="305" fill="#000" stroke="#000" stroke-width="0.22" font-family="Liberation Sans, sans-serif" font-size="9.6" textLength="32.4" lengthAdjust="spacingAndGlyphs" >0.93445</text>
<rect x="1165" y="334" width="2" height="1" fill="#000"/>
<text x="1170.4" y="338" fill="#000" stroke="#000" stroke-width="0.22" font-family="Liberation Sans, sans-serif" font-size="9.6" textLength="32.4" lengthAdjust="spacingAndGlyphs" >0.92545</text>
<rect x="1165" y="367" width="2" height="1" fill="#000"/>
<text x="1170.4" y="371" fill="#000" stroke="#000" stroke-width="0.22" font-family="Liberation Sans, sans-serif" font-size="9.6" textLength="32.4" lengthAdjust="spacingAndGlyphs" >0.91620</text>
<rect x="1165" y="400" width="2" height="1" fill="#000"/>
<text x="1170.4" y="404" fill="#000" stroke="#000" stroke-width="0.22" font-family="Liberation Sans, sans-serif" font-size="9.6" textLength="32.4" lengthAdjust="spacingAndGlyphs" >0.90695</text>
<rect x="1166" y="60" width="38" height="11" fill="#ff0000"/>
<text x="1170.4" y="69" fill="#fff" stroke="#fff" stroke-width="0.22" font-family="Liberation Sans, sans-serif" font-size="9.6" textLength="32.4" lengthAdjust="spacingAndGlyphs" >1.00015</text>
<rect x="1166" y="132" width="38" height="11" fill="#00ff00"/>
<text x="1170.4" y="141" fill="#fff" stroke="#fff" stroke-width="0.22" font-family="Liberation Sans, sans-serif" font-size="9.6" textLength="32.4" lengthAdjust="spacingAndGlyphs" >0.98008</text>
<rect x="1166" y="168" width="38" height="11" fill="#000000"/>
<text x="1170.4" y="177" fill="#fff" stroke="#fff" stroke-width="0.22" font-family="Liberation Sans, sans-serif" font-size="9.6" textLength="32.4" lengthAdjust="spacingAndGlyphs" >0.97040</text>
<rect x="1166" y="204" width="38" height="11" fill="#0000ff"/>
<text x="1170.4" y="213" fill="#fff" stroke="#fff" stroke-width="0.22" font-family="Liberation Sans, sans-serif" font-size="9.6" textLength="32.4" lengthAdjust="spacingAndGlyphs" >0.96000</text>
<rect x="1166" y="276" width="38" height="11" fill="#0000ff"/>
<text x="1170.4" y="285" fill="#fff" stroke="#fff" stroke-width="0.22" font-family="Liberation Sans, sans-serif" font-size="9.6" textLength="32.4" lengthAdjust="spacingAndGlyphs" >0.93993</text>
<text x="1168" y="416" fill="#000" stroke="#000" stroke-width="0.22" font-family="Liberation Sans, sans-serif" font-size="9.6" textLength="33" lengthAdjust="spacingAndGlyphs" >0.01555</text>
<text x="1168" y="482" fill="#000" stroke="#000" stroke-width="0.22" font-family="Liberation Sans, sans-serif" font-size="9.6" textLength="17.9" lengthAdjust="spacingAndGlyphs" >0.00</text>
<text x="1168" y="499" fill="#000" stroke="#000" stroke-width="0.22" font-family="Liberation Sans, sans-serif" font-size="9.6" textLength="35.6" lengthAdjust="spacingAndGlyphs" >-0.00507</text>
<rect x="1165" y="407" width="1" height="1" fill="#000"/>
<rect x="1165" y="478" width="1" height="1" fill="#000"/>
<rect x="1165" y="501" width="1" height="1" fill="#000"/>
<text x="1168" y="515" fill="#000" stroke="#000" stroke-width="0.22" font-family="Liberation Sans, sans-serif" font-size="9.6" textLength="15" lengthAdjust="spacingAndGlyphs" >100</text>
<text x="1168" y="535" fill="#000" stroke="#000" stroke-width="0.22" font-family="Liberation Sans, sans-serif" font-size="9.6" textLength="10" lengthAdjust="spacingAndGlyphs" >70</text>
<text x="1168" y="568" fill="#000" stroke="#000" stroke-width="0.22" font-family="Liberation Sans, sans-serif" font-size="9.6" textLength="10" lengthAdjust="spacingAndGlyphs" >30</text>
<text x="1168" y="587" fill="#000" stroke="#000" stroke-width="0.22" font-family="Liberation Sans, sans-serif" font-size="9.6" textLength="5.3" lengthAdjust="spacingAndGlyphs" >0</text>
<rect x="1165" y="506" width="1" height="1" fill="#000"/>
<rect x="1165" y="531" width="1" height="1" fill="#000"/>
<rect x="1165" y="564" width="1" height="1" fill="#000"/>
<rect x="1165" y="589" width="1" height="1" fill="#000"/>
<polygon points="5,32 12.5,32 8.75,36" fill="#000"/>
<text x="17.5" y="37" fill="#000" stroke="#000" stroke-width="0.22" font-family="Liberation Sans, sans-serif" font-size="9.6" textLength="67.2" lengthAdjust="spacingAndGlyphs" >USDCHF-,Daily</text>
<text x="91.1" y="37" fill="#000" stroke="#000" stroke-width="0.22" font-family="Liberation Sans, sans-serif" font-size="9.6" textLength="140.7" lengthAdjust="spacingAndGlyphs" >0.96671 0.97317 0.96187 0.97040</text>
<text x="6.4" y="418" fill="#000" stroke="#000" stroke-width="0.22" font-family="Liberation Sans, sans-serif" font-size="9.6" textLength="64.4" lengthAdjust="spacingAndGlyphs" >MACD(12,26,9)</text>
<text x="75.3" y="418" fill="#000" stroke="#000" stroke-width="0.22" font-family="Liberation Sans, sans-serif" font-size="9.6" textLength="36.7" lengthAdjust="spacingAndGlyphs" >0.003190</text>
<text x="116.2" y="418" fill="#000" stroke="#000" stroke-width="0.22" font-family="Liberation Sans, sans-serif" font-size="9.6" textLength="37.3" lengthAdjust="spacingAndGlyphs" >0.003014</text>
<text x="6.4" y="517" fill="#000" stroke="#000" stroke-width="0.22" font-family="Liberation Sans, sans-serif" font-size="9.6" textLength="67.4" lengthAdjust="spacingAndGlyphs" >RSI(14) 46.0334</text>
<rect x="2" y="591" width="1" height="3" fill="#000"/>
<text x="1.4" y="603" fill="#000" stroke="#000" stroke-width="0.22" font-family="Liberation Sans, sans-serif" font-size="9.6" textLength="51.6" lengthAdjust="spacingAndGlyphs" >22 Sep 2021</text>
<rect x="66" y="591" width="1" height="3" fill="#000"/>
<text x="65.4" y="603" fill="#000" stroke="#000" stroke-width="0.22" font-family="Liberation Sans, sans-serif" font-size="9.6" textLength="50" lengthAdjust="spacingAndGlyphs" >11 Oct 2021</text>
<rect x="130" y="591" width="1" height="3" fill="#000"/>
<text x="129.4" y="603" fill="#000" stroke="#000" stroke-width="0.22" font-family="Liberation Sans, sans-serif" font-size="9.6" textLength="50" lengthAdjust="spacingAndGlyphs" >29 Oct 2021</text>
<rect x="194" y="591" width="1" height="3" fill="#000"/>
<text x="193.4" y="603" fill="#000" stroke="#000" stroke-width="0.22" font-family="Liberation Sans, sans-serif" font-size="9.6" textLength="53" lengthAdjust="spacingAndGlyphs" >17 Nov 2021</text>
<rect x="258" y="591" width="1" height="3" fill="#000"/>
<text x="257.4" y="603" fill="#000" stroke="#000" stroke-width="0.22" font-family="Liberation Sans, sans-serif" font-size="9.6" textLength="45.9" lengthAdjust="spacingAndGlyphs" >6 Dec 2021</text>
<rect x="322" y="591" width="1" height="3" fill="#000"/>
<text x="321.4" y="603" fill="#000" stroke="#000" stroke-width="0.22" font-family="Liberation Sans, sans-serif" font-size="9.6" textLength="50.8" lengthAdjust="spacingAndGlyphs" >24 Dec 2021</text>
<rect x="386" y="591" width="1" height="3" fill="#000"/>
<text x="385.4" y="603" fill="#000" stroke="#000" stroke-width="0.22" font-family="Liberation Sans, sans-serif" font-size="9.6" textLength="49.2" lengthAdjust="spacingAndGlyphs" >12 Jan 2022</text>
<rect x="450" y="591" width="1" height="3" fill="#000"/>
<text x="449.4" y="603" fill="#000" stroke="#000" stroke-width="0.22" font-family="Liberation Sans, sans-serif" font-size="9.6" textLength="49.4" lengthAdjust="spacingAndGlyphs" >31 Jan 2022</text>
<rect x="514" y="591" width="1" height="3" fill="#000"/>
<text x="513.4" y="603" fill="#000" stroke="#000" stroke-width="0.22" font-family="Liberation Sans, sans-serif" font-size="9.6" textLength="50.8" lengthAdjust="spacingAndGlyphs" >18 Feb 2022</text>
<rect x="578" y="591" width="1" height="3" fill="#000"/>
<text x="577.4" y="603" fill="#000" stroke="#000" stroke-width="0.22" font-family="Liberation Sans, sans-serif" font-size="9.6" textLength="46.3" lengthAdjust="spacingAndGlyphs" >9 Mar 2022</text>
<rect x="642" y="591" width="1" height="3" fill="#000"/>
<text x="641.4" y="603" fill="#000" stroke="#000" stroke-width="0.22" font-family="Liberation Sans, sans-serif" font-size="9.6" textLength="50.9" lengthAdjust="spacingAndGlyphs" >28 Mar 2022</text>
<rect x="706" y="591" width="1" height="3" fill="#000"/>
<text x="705.4" y="603" fill="#000" stroke="#000" stroke-width="0.22" font-family="Liberation Sans, sans-serif" font-size="9.6" textLength="49.8" lengthAdjust="spacingAndGlyphs" >15 Apr 2022</text>
<rect x="770" y="591" width="1" height="3" fill="#000"/>
<text x="769.4" y="603" fill="#000" stroke="#000" stroke-width="0.22" font-family="Liberation Sans, sans-serif" font-size="9.6" textLength="49.2" lengthAdjust="spacingAndGlyphs" >4 May 2022</text>
<rect x="834" y="591" width="1" height="3" fill="#000"/>
<text x="833.4" y="603" fill="#000" stroke="#000" stroke-width="0.22" font-family="Liberation Sans, sans-serif" font-size="9.6" textLength="53.9" lengthAdjust="spacingAndGlyphs" >23 May 2022</text>
<rect x="898" y="591" width="1" height="3" fill="#000"/>
<text x="897.4" y="603" fill="#000" stroke="#000" stroke-width="0.22" font-family="Liberation Sans, sans-serif" font-size="9.6" textLength="49" lengthAdjust="spacingAndGlyphs" >10 Jun 2022</text>
<text x="-2.2" y="12.9" fill="#3c3c3c" font-family="Liberation Sans, sans-serif" font-size="9.4" textLength="5.2" lengthAdjust="spacingAndGlyphs" >5</text>
<text x="13.6" y="12.9" fill="#3c3c3c" font-family="Liberation Sans, sans-serif" font-size="9.4" textLength="17.4" lengthAdjust="spacingAndGlyphs" >M30</text>
<text x="44.5" y="12.9" fill="#3c3c3c" font-family="Liberation Sans, sans-serif" font-size="9.4" textLength="11.5" lengthAdjust="spacingAndGlyphs" >H1</text>
<text x="71.8" y="12.9" fill="#3c3c3c" font-family="Liberation Sans, sans-serif" font-size="9.4" textLength="12.2" lengthAdjust="spacingAndGlyphs" >H4</text>
<text x="100.5" y="12.9" fill="#3c3c3c" font-family="Liberation Sans, sans-serif" font-size="9.4" textLength="11.5" lengthAdjust="spacingAndGlyphs" >D1</text>
<text x="128" y="12.9" fill="#3c3c3c" font-family="Liberation Sans, sans-serif" font-size="9.4" textLength="14" lengthAdjust="spacingAndGlyphs" >W1</text>
<text x="154.5" y="12.9" fill="#3c3c3c" font-family="Liberation Sans, sans-serif" font-size="9.4" textLength="14.9" lengthAdjust="spacingAndGlyphs" >MN</text>
<rect x="0" y="611" width="1204" height="1" fill="#e6e6e6"/>
<rect x="0" y="613" width="1204" height="1" fill="#000"/>
<rect x="0" y="614" width="1204" height="1" fill="#fafafa"/>
<rect x="0" y="615" width="1204" height="17" fill="#f0f0f0"/>
<rect x="0" y="632" width="1204" height="1" fill="#fdfdfd"/>
<rect x="0" y="633" width="1204" height="4" fill="#f0f0f0"/>
<rect x="220" y="612" width="106" height="19" fill="#fff"/>
<rect x="219" y="613" width="1" height="19" fill="#000"/>
<rect x="326" y="613" width="1" height="19" fill="#000"/>
<rect x="218" y="614" width="1" height="18" fill="#fafafa"/>
<rect x="327" y="614" width="1" height="18" fill="#fafafa"/>
<rect x="219" y="631" width="108" height="1" fill="#000"/>
<text x="14.5" y="628" fill="#787878" stroke="#787878" stroke-width="0.1" font-family="Liberation Sans, sans-serif" font-size="12.3" textLength="84.5" lengthAdjust="spacingAndGlyphs" >EURUSD-,Daily</text>
<text x="121.5" y="628" fill="#787878" stroke="#787878" stroke-width="0.1" font-family="Liberation Sans, sans-serif" font-size="12.3" textLength="86.5" lengthAdjust="spacingAndGlyphs" >AUDUSD-,Daily</text>
<text x="231.6" y="628" fill="#000" stroke="#000" stroke-width="0.1" font-family="Liberation Sans, sans-serif" font-size="12.3" textLength="83.4" lengthAdjust="spacingAndGlyphs" >USDCHF-,Daily</text>
<text x="338.4" y="628" fill="#787878" stroke="#787878" stroke-width="0.1" font-family="Liberation Sans, sans-serif" font-size="12.3" textLength="85.1" lengthAdjust="spacingAndGlyphs" >USDCAD-,Daily</text>
<text x="447.5" y="628" fill="#787878" stroke="#787878" stroke-width="0.1" font-family="Liberation Sans, sans-serif" font-size="12.3" textLength="87.2" lengthAdjust="spacingAndGlyphs" >USDCNH-,Daily</text>
<text x="558.4" y="628" fill="#787878" stroke="#787878" stroke-width="0.1" font-family="Liberation Sans, sans-serif" font-size="12.3" textLength="73.5" lengthAdjust="spacingAndGlyphs" >XAUUSD-,H4</text>
<text x="654.3" y="628" fill="#787878" stroke="#787878" stroke-width="0.1" font-family="Liberation Sans, sans-serif" font-size="12.3" textLength="68.5" lengthAdjust="spacingAndGlyphs" >UKOil-,Daily</text>
<text x="747.3" y="628" fill="#787878" stroke="#787878" stroke-width="0.1" font-family="Liberation Sans, sans-serif" font-size="12.3" textLength="67.3" lengthAdjust="spacingAndGlyphs" >USOil-,Daily</text>
<text x="837.5" y="628" fill="#787878" stroke="#787878" stroke-width="0.1" font-family="Liberation Sans, sans-serif" font-size="12.3" textLength="53.8" lengthAdjust="spacingAndGlyphs" >HK50-,H1</text>
<text x="913.3" y="628" fill="#787878" stroke="#787878" stroke-width="0.1" font-family="Liberation Sans, sans-serif" font-size="12.3" textLength="69.9" lengthAdjust="spacingAndGlyphs" >EURCHF-,H1</text>
<text x="1006.9" y="628" fill="#787878" stroke="#787878" stroke-width="0.1" font-family="Liberation Sans, sans-serif" font-size="12.3" textLength="55.8" lengthAdjust="spacingAndGlyphs" >USOil-,H4</text>
<text x="1086.4" y="628" fill="#787878" stroke="#787878" stroke-width="0.1" font-family="Liberation Sans, sans-serif" font-size="12.3" textLength="56.3" lengthAdjust="spacingAndGlyphs" >UKOil-,H4</text>
<rect x="111" y="616" width="1" height="14" fill="#707070"/>
<rect x="435" y="616" width="1" height="14" fill="#707070"/>
<rect x="547" y="616" width="1" height="14" fill="#707070"/>
<rect x="643" y="616" width="1" height="14" fill="#707070"/>
<rect x="735" y="616" width="1" height="14" fill="#707070"/>
<rect x="827" y="616" width="1" height="14" fill="#707070"/>
<rect x="903" y="616" width="1" height="14" fill="#707070"/>
<rect x="995" y="616" width="1" height="14" fill="#707070"/>
<rect x="1075" y="616" width="1" height="14" fill="#707070"/>
<rect x="1155" y="616" width="1" height="14" fill="#707070"/>
<polygon points="1183,618 1183,626 1179,622" fill="#000" shape-rendering="auto"/>
<polygon points="1198.5,618 1198.5,626 1202.5,622" fill="#a0a0a0" shape-rendering="auto"/>
</svg>
</body></html>
